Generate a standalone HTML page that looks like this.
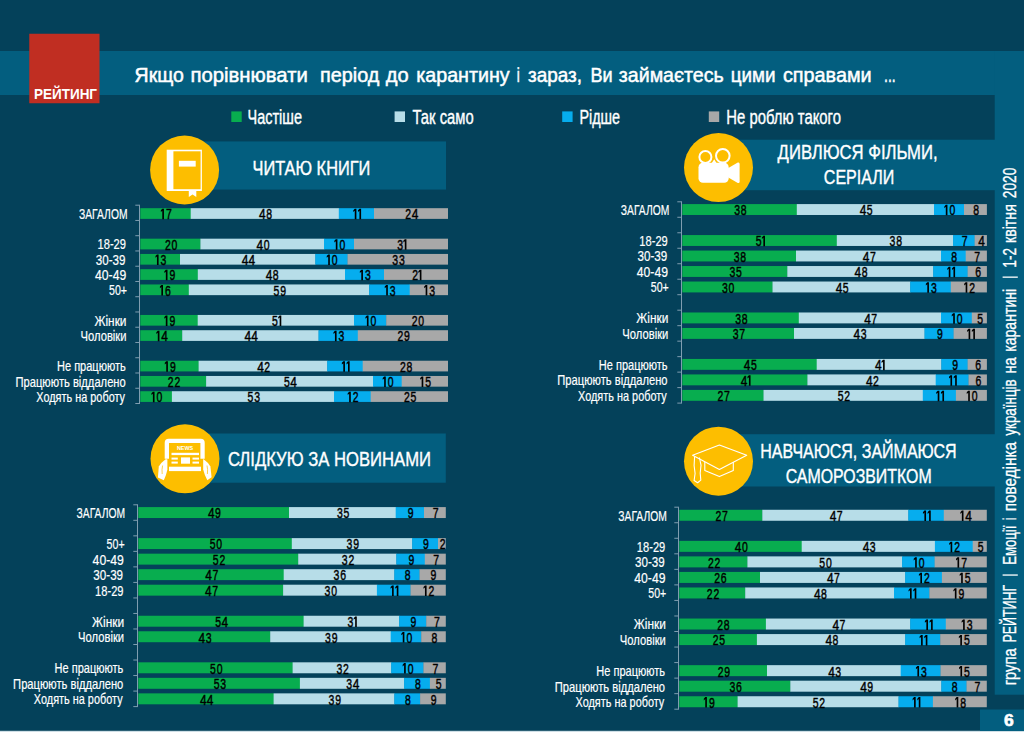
<!DOCTYPE html>
<html lang="uk"><head><meta charset="utf-8"><title>Рейтинг</title>
<style>
html,body{margin:0;padding:0;background:#04415a;}
body{width:1024px;height:732px;overflow:hidden;}
svg{display:block;font-family:"Liberation Sans",sans-serif;}
</style></head><body>
<svg width="1024" height="732" viewBox="0 0 1024 732">
<rect x="0.00" y="0.00" width="1024.00" height="732.00" fill="#04415a" />
<rect x="0.00" y="51.00" width="1024.00" height="44.00" fill="#035e7f" />
<rect x="994.70" y="51.00" width="29.30" height="643.70" fill="#035e7f" />
<rect x="0.00" y="730.80" width="1024.00" height="1.20" fill="#cfdfe6" />
<rect x="980.00" y="709.50" width="44.00" height="21.50" fill="#035e7f" />
<text x="1003.90" y="726.30" font-size="16.57" text-anchor="start" fill="#fff" font-weight="bold" textLength="9.72" lengthAdjust="spacingAndGlyphs"  stroke="#fff" stroke-width="0.6">6</text>
<rect x="29.25" y="33.75" width="70.25" height="69.50" fill="#c02e22" />
<text x="34.00" y="98.75" font-size="14.53" text-anchor="start" fill="#fff" font-weight="bold" textLength="63.02" lengthAdjust="spacingAndGlyphs" >РЕЙТИНГ</text>
<text x="134.60" y="81.80" font-size="20.64" text-anchor="start" fill="#fff" font-weight="normal" textLength="49.25" lengthAdjust="spacingAndGlyphs"  stroke="#fff" stroke-width="0.5">Якщо</text>
<text x="190.40" y="81.80" font-size="20.64" text-anchor="start" fill="#fff" font-weight="normal" textLength="117.41" lengthAdjust="spacingAndGlyphs"  stroke="#fff" stroke-width="0.5">порівнювати</text>
<text x="320.00" y="81.80" font-size="20.64" text-anchor="start" fill="#fff" font-weight="normal" textLength="59.38" lengthAdjust="spacingAndGlyphs"  stroke="#fff" stroke-width="0.5">період</text>
<text x="385.70" y="81.80" font-size="20.64" text-anchor="start" fill="#fff" font-weight="normal" textLength="22.89" lengthAdjust="spacingAndGlyphs"  stroke="#fff" stroke-width="0.5">до</text>
<text x="416.20" y="81.80" font-size="20.64" text-anchor="start" fill="#fff" font-weight="normal" textLength="93.48" lengthAdjust="spacingAndGlyphs"  stroke="#fff" stroke-width="0.5">карантину</text>
<text x="516.80" y="81.80" font-size="20.64" text-anchor="start" fill="#fff" font-weight="normal" textLength="3.03" lengthAdjust="spacingAndGlyphs"  stroke="#fff" stroke-width="0.5">і</text>
<text x="528.00" y="81.80" font-size="20.64" text-anchor="start" fill="#fff" font-weight="normal" textLength="54.04" lengthAdjust="spacingAndGlyphs"  stroke="#fff" stroke-width="0.5">зараз,</text>
<text x="590.40" y="81.80" font-size="20.64" text-anchor="start" fill="#fff" font-weight="normal" textLength="22.11" lengthAdjust="spacingAndGlyphs"  stroke="#fff" stroke-width="0.5">Ви</text>
<text x="618.80" y="81.80" font-size="20.64" text-anchor="start" fill="#fff" font-weight="normal" textLength="104.92" lengthAdjust="spacingAndGlyphs"  stroke="#fff" stroke-width="0.5">займаєтесь</text>
<text x="730.70" y="81.80" font-size="20.64" text-anchor="start" fill="#fff" font-weight="normal" textLength="44.85" lengthAdjust="spacingAndGlyphs"  stroke="#fff" stroke-width="0.5">цими</text>
<text x="782.90" y="81.80" font-size="20.64" text-anchor="start" fill="#fff" font-weight="normal" textLength="88.72" lengthAdjust="spacingAndGlyphs"  stroke="#fff" stroke-width="0.5">справами</text>
<text x="884.00" y="81.80" font-size="20.64" text-anchor="start" fill="#fff" font-weight="normal" textLength="11.68" lengthAdjust="spacingAndGlyphs"  stroke="#fff" stroke-width="0.5">...</text>
<rect x="231.30" y="111.40" width="10.40" height="10.60" fill="#08ad4f" />
<text x="247.50" y="123.60" font-size="20.35" text-anchor="start" fill="#fff" font-weight="normal" textLength="54.52" lengthAdjust="spacingAndGlyphs"  stroke="#fff" stroke-width="0.4">Частіше</text>
<rect x="394.60" y="111.40" width="10.40" height="10.60" fill="#b7dde8" />
<text x="412.50" y="123.60" font-size="20.35" text-anchor="start" fill="#fff" font-weight="normal" textLength="61.13" lengthAdjust="spacingAndGlyphs"  stroke="#fff" stroke-width="0.4">Так само</text>
<rect x="562.20" y="111.40" width="10.40" height="10.60" fill="#06adee" />
<text x="579.40" y="123.60" font-size="20.35" text-anchor="start" fill="#fff" font-weight="normal" textLength="40.62" lengthAdjust="spacingAndGlyphs"  stroke="#fff" stroke-width="0.4">Рідше</text>
<rect x="708.80" y="111.40" width="10.40" height="10.60" fill="#a8a8a8" />
<text x="726.30" y="123.60" font-size="20.35" text-anchor="start" fill="#fff" font-weight="normal" textLength="114.69" lengthAdjust="spacingAndGlyphs"  stroke="#fff" stroke-width="0.4">Не роблю такого</text>
<text transform="translate(1016.2,685.3) rotate(-90)" x="0.00" y="0" font-size="17.73" fill="#fff" stroke="#fff" stroke-width="0.3" textLength="36.86" lengthAdjust="spacingAndGlyphs">група</text>
<text transform="translate(1016.2,642.6) rotate(-90)" x="0.00" y="0" font-size="17.73" fill="#fff" stroke="#fff" stroke-width="0.3" textLength="57.71" lengthAdjust="spacingAndGlyphs">РЕЙТИНГ</text>
<text transform="translate(1016.2,564.8) rotate(-90)" x="0.00" y="0" font-size="17.73" fill="#fff" stroke="#fff" stroke-width="0.3" textLength="39.18" lengthAdjust="spacingAndGlyphs">Емоції</text>
<text transform="translate(1016.2,519.9) rotate(-90)" x="0.00" y="0" font-size="17.73" fill="#fff" stroke="#fff" stroke-width="0.3" textLength="2.22" lengthAdjust="spacingAndGlyphs">і</text>
<text transform="translate(1016.2,511.3) rotate(-90)" x="0.00" y="0" font-size="17.73" fill="#fff" stroke="#fff" stroke-width="0.3" textLength="69.33" lengthAdjust="spacingAndGlyphs">поведінка</text>
<text transform="translate(1016.2,435.6) rotate(-90)" x="0.00" y="0" font-size="17.73" fill="#fff" stroke="#fff" stroke-width="0.3" textLength="56.21" lengthAdjust="spacingAndGlyphs">українців</text>
<text transform="translate(1016.2,373.6) rotate(-90)" x="0.00" y="0" font-size="17.73" fill="#fff" stroke="#fff" stroke-width="0.3" textLength="16.18" lengthAdjust="spacingAndGlyphs">на</text>
<text transform="translate(1016.2,351.8) rotate(-90)" x="0.00" y="0" font-size="17.73" fill="#fff" stroke="#fff" stroke-width="0.3" textLength="63.02" lengthAdjust="spacingAndGlyphs">карантині</text>
<text transform="translate(1016.2,267.7) rotate(-90)" x="0.00" y="0" font-size="17.73" fill="#fff" stroke="#fff" stroke-width="0.3" textLength="19.71" lengthAdjust="spacingAndGlyphs">1-2</text>
<text transform="translate(1016.2,243) rotate(-90)" x="0.00" y="0" font-size="17.73" fill="#fff" stroke="#fff" stroke-width="0.3" textLength="38.87" lengthAdjust="spacingAndGlyphs">квітня</text>
<text transform="translate(1016.2,198.2) rotate(-90)" x="0.00" y="0" font-size="17.73" fill="#fff" stroke="#fff" stroke-width="0.3" textLength="30.60" lengthAdjust="spacingAndGlyphs">2020</text>
<rect x="1002.60" y="574.40" width="15.20" height="1.30" fill="#fff" />
<rect x="1002.60" y="276.50" width="15.20" height="1.30" fill="#fff" />
<path d="M139.50 205.20V403.50" stroke="#7f9db0" stroke-width="1" fill="none"/>
<path d="M135.30 205.20H140.00" stroke="#7f9db0" stroke-width="1" fill="none"/>
<path d="M135.30 220.45H140.00" stroke="#7f9db0" stroke-width="1" fill="none"/>
<path d="M135.30 235.71H140.00" stroke="#7f9db0" stroke-width="1" fill="none"/>
<path d="M135.30 250.96H140.00" stroke="#7f9db0" stroke-width="1" fill="none"/>
<path d="M135.30 266.22H140.00" stroke="#7f9db0" stroke-width="1" fill="none"/>
<path d="M135.30 281.47H140.00" stroke="#7f9db0" stroke-width="1" fill="none"/>
<path d="M135.30 296.72H140.00" stroke="#7f9db0" stroke-width="1" fill="none"/>
<path d="M135.30 311.98H140.00" stroke="#7f9db0" stroke-width="1" fill="none"/>
<path d="M135.30 327.23H140.00" stroke="#7f9db0" stroke-width="1" fill="none"/>
<path d="M135.30 342.48H140.00" stroke="#7f9db0" stroke-width="1" fill="none"/>
<path d="M135.30 357.74H140.00" stroke="#7f9db0" stroke-width="1" fill="none"/>
<path d="M135.30 372.99H140.00" stroke="#7f9db0" stroke-width="1" fill="none"/>
<path d="M135.30 388.25H140.00" stroke="#7f9db0" stroke-width="1" fill="none"/>
<path d="M135.30 403.50H140.00" stroke="#7f9db0" stroke-width="1" fill="none"/>
<rect x="140.30" y="208.18" width="50.70" height="10.70" fill="#08ad4f" />
<path d="M162.30 208.73H163.95V219.23H162.30V210.73L160.85 212.03V210.33z" fill="#000"/>
<text x="165.95" y="219.23" font-size="14.83" text-anchor="start" fill="#000" font-weight="normal" textLength="5.81" lengthAdjust="spacingAndGlyphs"  stroke="#000" stroke-width="0.45">7</text>
<rect x="190.70" y="208.18" width="148.40" height="10.70" fill="#b7dde8" />
<text x="259.10" y="219.23" font-size="14.83" text-anchor="start" fill="#000" font-weight="normal" textLength="6.61" lengthAdjust="spacingAndGlyphs"  stroke="#000" stroke-width="0.45">4</text>
<text x="266.20" y="219.23" font-size="14.83" text-anchor="start" fill="#000" font-weight="normal" textLength="5.81" lengthAdjust="spacingAndGlyphs"  stroke="#000" stroke-width="0.45">8</text>
<rect x="338.80" y="208.18" width="35.50" height="10.70" fill="#06adee" />
<path d="M354.75 208.73H356.40V219.23H354.75V210.73L353.30 212.03V210.33z" fill="#000"/>
<path d="M359.45 208.73H361.10V219.23H359.45V210.73L358.00 212.03V210.33z" fill="#000"/>
<rect x="374.00" y="208.18" width="74.00" height="10.70" fill="#a8a8a8" />
<text x="405.35" y="219.23" font-size="14.83" text-anchor="start" fill="#000" font-weight="normal" textLength="5.81" lengthAdjust="spacingAndGlyphs"  stroke="#000" stroke-width="0.45">2</text>
<text x="411.65" y="219.23" font-size="14.83" text-anchor="start" fill="#000" font-weight="normal" textLength="6.61" lengthAdjust="spacingAndGlyphs"  stroke="#000" stroke-width="0.45">4</text>
<text x="79.00" y="218.78" font-size="15.12" text-anchor="start" fill="#fff" font-weight="normal" textLength="48.52" lengthAdjust="spacingAndGlyphs"  stroke="#fff" stroke-width="0.2">ЗАГАЛОМ</text>
<rect x="140.30" y="238.68" width="60.40" height="10.70" fill="#08ad4f" />
<text x="164.95" y="249.73" font-size="14.83" text-anchor="start" fill="#000" font-weight="normal" textLength="5.81" lengthAdjust="spacingAndGlyphs"  stroke="#000" stroke-width="0.45">2</text>
<text x="171.55" y="249.73" font-size="14.83" text-anchor="start" fill="#000" font-weight="normal" textLength="5.81" lengthAdjust="spacingAndGlyphs"  stroke="#000" stroke-width="0.45">0</text>
<rect x="200.40" y="238.68" width="123.90" height="10.70" fill="#b7dde8" />
<text x="256.55" y="249.73" font-size="14.83" text-anchor="start" fill="#000" font-weight="normal" textLength="6.61" lengthAdjust="spacingAndGlyphs"  stroke="#000" stroke-width="0.45">4</text>
<text x="263.65" y="249.73" font-size="14.83" text-anchor="start" fill="#000" font-weight="normal" textLength="5.81" lengthAdjust="spacingAndGlyphs"  stroke="#000" stroke-width="0.45">0</text>
<rect x="324.00" y="238.68" width="30.30" height="10.70" fill="#06adee" />
<path d="M335.80 239.23H337.45V249.73H335.80V241.23L334.35 242.53V240.83z" fill="#000"/>
<text x="339.45" y="249.73" font-size="14.83" text-anchor="start" fill="#000" font-weight="normal" textLength="5.81" lengthAdjust="spacingAndGlyphs"  stroke="#000" stroke-width="0.45">0</text>
<rect x="354.00" y="238.68" width="94.00" height="10.70" fill="#a8a8a8" />
<text x="397.15" y="249.73" font-size="14.83" text-anchor="start" fill="#000" font-weight="normal" textLength="5.81" lengthAdjust="spacingAndGlyphs"  stroke="#000" stroke-width="0.45">3</text>
<path d="M404.80 239.23H406.45V249.73H404.80V241.23L403.35 242.53V240.83z" fill="#000"/>
<text x="97.50" y="249.28" font-size="15.12" text-anchor="start" fill="#fff" font-weight="normal" textLength="28.47" lengthAdjust="spacingAndGlyphs"  stroke="#fff" stroke-width="0.2">18-29</text>
<rect x="140.30" y="253.94" width="40.00" height="10.70" fill="#08ad4f" />
<path d="M156.95 254.49H158.60V264.99H156.95V256.49L155.50 257.79V256.09z" fill="#000"/>
<text x="160.60" y="264.99" font-size="14.83" text-anchor="start" fill="#000" font-weight="normal" textLength="5.81" lengthAdjust="spacingAndGlyphs"  stroke="#000" stroke-width="0.45">3</text>
<rect x="180.00" y="253.94" width="135.60" height="10.70" fill="#b7dde8" />
<text x="241.75" y="264.99" font-size="14.83" text-anchor="start" fill="#000" font-weight="normal" textLength="6.61" lengthAdjust="spacingAndGlyphs"  stroke="#000" stroke-width="0.45">4</text>
<text x="248.55" y="264.99" font-size="14.83" text-anchor="start" fill="#000" font-weight="normal" textLength="6.61" lengthAdjust="spacingAndGlyphs"  stroke="#000" stroke-width="0.45">4</text>
<rect x="315.30" y="253.94" width="32.50" height="10.70" fill="#06adee" />
<path d="M328.20 254.49H329.85V264.99H328.20V256.49L326.75 257.79V256.09z" fill="#000"/>
<text x="331.85" y="264.99" font-size="14.83" text-anchor="start" fill="#000" font-weight="normal" textLength="5.81" lengthAdjust="spacingAndGlyphs"  stroke="#000" stroke-width="0.45">0</text>
<rect x="347.50" y="253.94" width="100.50" height="10.70" fill="#a8a8a8" />
<text x="392.35" y="264.99" font-size="14.83" text-anchor="start" fill="#000" font-weight="normal" textLength="5.81" lengthAdjust="spacingAndGlyphs"  stroke="#000" stroke-width="0.45">3</text>
<text x="398.95" y="264.99" font-size="14.83" text-anchor="start" fill="#000" font-weight="normal" textLength="5.81" lengthAdjust="spacingAndGlyphs"  stroke="#000" stroke-width="0.45">3</text>
<text x="95.75" y="264.54" font-size="15.12" text-anchor="start" fill="#fff" font-weight="normal" textLength="29.72" lengthAdjust="spacingAndGlyphs"  stroke="#fff" stroke-width="0.2">30-39</text>
<rect x="140.30" y="269.19" width="57.80" height="10.70" fill="#08ad4f" />
<path d="M165.85 269.74H167.50V280.24H165.85V271.74L164.40 273.04V271.34z" fill="#000"/>
<text x="169.50" y="280.24" font-size="14.83" text-anchor="start" fill="#000" font-weight="normal" textLength="5.81" lengthAdjust="spacingAndGlyphs"  stroke="#000" stroke-width="0.45">9</text>
<rect x="197.80" y="269.19" width="147.50" height="10.70" fill="#b7dde8" />
<text x="265.75" y="280.24" font-size="14.83" text-anchor="start" fill="#000" font-weight="normal" textLength="6.61" lengthAdjust="spacingAndGlyphs"  stroke="#000" stroke-width="0.45">4</text>
<text x="272.85" y="280.24" font-size="14.83" text-anchor="start" fill="#000" font-weight="normal" textLength="5.81" lengthAdjust="spacingAndGlyphs"  stroke="#000" stroke-width="0.45">8</text>
<rect x="345.00" y="269.19" width="39.30" height="10.70" fill="#06adee" />
<path d="M361.30 269.74H362.95V280.24H361.30V271.74L359.85 273.04V271.34z" fill="#000"/>
<text x="364.95" y="280.24" font-size="14.83" text-anchor="start" fill="#000" font-weight="normal" textLength="5.81" lengthAdjust="spacingAndGlyphs"  stroke="#000" stroke-width="0.45">3</text>
<rect x="384.00" y="269.19" width="64.00" height="10.70" fill="#a8a8a8" />
<text x="412.15" y="280.24" font-size="14.83" text-anchor="start" fill="#000" font-weight="normal" textLength="5.81" lengthAdjust="spacingAndGlyphs"  stroke="#000" stroke-width="0.45">2</text>
<path d="M419.80 269.74H421.45V280.24H419.80V271.74L418.35 273.04V271.34z" fill="#000"/>
<text x="95.00" y="279.79" font-size="15.12" text-anchor="start" fill="#fff" font-weight="normal" textLength="31.22" lengthAdjust="spacingAndGlyphs"  stroke="#fff" stroke-width="0.2">40-49</text>
<rect x="140.30" y="284.45" width="48.80" height="10.70" fill="#08ad4f" />
<path d="M161.35 285.00H163.00V295.50H161.35V287.00L159.90 288.30V286.60z" fill="#000"/>
<text x="165.00" y="295.50" font-size="14.83" text-anchor="start" fill="#000" font-weight="normal" textLength="5.81" lengthAdjust="spacingAndGlyphs"  stroke="#000" stroke-width="0.45">6</text>
<rect x="188.80" y="284.45" width="180.60" height="10.70" fill="#b7dde8" />
<text x="273.55" y="295.50" font-size="14.83" text-anchor="start" fill="#000" font-weight="normal" textLength="5.81" lengthAdjust="spacingAndGlyphs"  stroke="#000" stroke-width="0.45">5</text>
<text x="280.15" y="295.50" font-size="14.83" text-anchor="start" fill="#000" font-weight="normal" textLength="5.81" lengthAdjust="spacingAndGlyphs"  stroke="#000" stroke-width="0.45">9</text>
<rect x="369.10" y="284.45" width="40.90" height="10.70" fill="#06adee" />
<path d="M386.20 285.00H387.85V295.50H386.20V287.00L384.75 288.30V286.60z" fill="#000"/>
<text x="389.85" y="295.50" font-size="14.83" text-anchor="start" fill="#000" font-weight="normal" textLength="5.81" lengthAdjust="spacingAndGlyphs"  stroke="#000" stroke-width="0.45">3</text>
<rect x="409.70" y="284.45" width="38.30" height="10.70" fill="#a8a8a8" />
<path d="M425.65 285.00H427.30V295.50H425.65V287.00L424.20 288.30V286.60z" fill="#000"/>
<text x="429.30" y="295.50" font-size="14.83" text-anchor="start" fill="#000" font-weight="normal" textLength="5.81" lengthAdjust="spacingAndGlyphs"  stroke="#000" stroke-width="0.45">3</text>
<text x="109.00" y="295.05" font-size="15.12" text-anchor="start" fill="#fff" font-weight="normal" textLength="18.01" lengthAdjust="spacingAndGlyphs"  stroke="#fff" stroke-width="0.2">50+</text>
<rect x="140.30" y="314.95" width="57.70" height="10.70" fill="#08ad4f" />
<path d="M165.80 315.50H167.45V326.00H165.80V317.50L164.35 318.80V317.10z" fill="#000"/>
<text x="169.45" y="326.00" font-size="14.83" text-anchor="start" fill="#000" font-weight="normal" textLength="5.81" lengthAdjust="spacingAndGlyphs"  stroke="#000" stroke-width="0.45">9</text>
<rect x="197.70" y="314.95" width="156.60" height="10.70" fill="#b7dde8" />
<text x="272.00" y="326.00" font-size="14.83" text-anchor="start" fill="#000" font-weight="normal" textLength="5.81" lengthAdjust="spacingAndGlyphs"  stroke="#000" stroke-width="0.45">5</text>
<path d="M279.65 315.50H281.30V326.00H279.65V317.50L278.20 318.80V317.10z" fill="#000"/>
<rect x="354.00" y="314.95" width="32.50" height="10.70" fill="#06adee" />
<path d="M366.90 315.50H368.55V326.00H366.90V317.50L365.45 318.80V317.10z" fill="#000"/>
<text x="370.55" y="326.00" font-size="14.83" text-anchor="start" fill="#000" font-weight="normal" textLength="5.81" lengthAdjust="spacingAndGlyphs"  stroke="#000" stroke-width="0.45">0</text>
<rect x="386.20" y="314.95" width="61.80" height="10.70" fill="#a8a8a8" />
<text x="411.70" y="326.00" font-size="14.83" text-anchor="start" fill="#000" font-weight="normal" textLength="5.81" lengthAdjust="spacingAndGlyphs"  stroke="#000" stroke-width="0.45">2</text>
<text x="418.30" y="326.00" font-size="14.83" text-anchor="start" fill="#000" font-weight="normal" textLength="5.81" lengthAdjust="spacingAndGlyphs"  stroke="#000" stroke-width="0.45">0</text>
<text x="94.50" y="325.55" font-size="15.12" text-anchor="start" fill="#fff" font-weight="normal" textLength="31.99" lengthAdjust="spacingAndGlyphs"  stroke="#fff" stroke-width="0.2">Жінки</text>
<rect x="140.30" y="330.21" width="42.20" height="10.70" fill="#08ad4f" />
<path d="M157.80 330.76H159.45V341.26H157.80V332.76L156.35 334.06V332.36z" fill="#000"/>
<text x="161.15" y="341.26" font-size="14.83" text-anchor="start" fill="#000" font-weight="normal" textLength="6.61" lengthAdjust="spacingAndGlyphs"  stroke="#000" stroke-width="0.45">4</text>
<rect x="182.20" y="330.21" width="136.60" height="10.70" fill="#b7dde8" />
<text x="244.45" y="341.26" font-size="14.83" text-anchor="start" fill="#000" font-weight="normal" textLength="6.61" lengthAdjust="spacingAndGlyphs"  stroke="#000" stroke-width="0.45">4</text>
<text x="251.25" y="341.26" font-size="14.83" text-anchor="start" fill="#000" font-weight="normal" textLength="6.61" lengthAdjust="spacingAndGlyphs"  stroke="#000" stroke-width="0.45">4</text>
<rect x="318.50" y="330.21" width="39.60" height="10.70" fill="#06adee" />
<path d="M334.95 330.76H336.60V341.26H334.95V332.76L333.50 334.06V332.36z" fill="#000"/>
<text x="338.60" y="341.26" font-size="14.83" text-anchor="start" fill="#000" font-weight="normal" textLength="5.81" lengthAdjust="spacingAndGlyphs"  stroke="#000" stroke-width="0.45">3</text>
<rect x="357.80" y="330.21" width="90.20" height="10.70" fill="#a8a8a8" />
<text x="397.50" y="341.26" font-size="14.83" text-anchor="start" fill="#000" font-weight="normal" textLength="5.81" lengthAdjust="spacingAndGlyphs"  stroke="#000" stroke-width="0.45">2</text>
<text x="404.10" y="341.26" font-size="14.83" text-anchor="start" fill="#000" font-weight="normal" textLength="5.81" lengthAdjust="spacingAndGlyphs"  stroke="#000" stroke-width="0.45">9</text>
<text x="80.50" y="340.81" font-size="15.12" text-anchor="start" fill="#fff" font-weight="normal" textLength="46.01" lengthAdjust="spacingAndGlyphs"  stroke="#fff" stroke-width="0.2">Чоловіки</text>
<rect x="140.30" y="360.72" width="58.60" height="10.70" fill="#08ad4f" />
<path d="M166.25 361.27H167.90V371.77H166.25V363.27L164.80 364.57V362.87z" fill="#000"/>
<text x="169.90" y="371.77" font-size="14.83" text-anchor="start" fill="#000" font-weight="normal" textLength="5.81" lengthAdjust="spacingAndGlyphs"  stroke="#000" stroke-width="0.45">9</text>
<rect x="198.60" y="360.72" width="128.90" height="10.70" fill="#b7dde8" />
<text x="257.25" y="371.77" font-size="14.83" text-anchor="start" fill="#000" font-weight="normal" textLength="6.61" lengthAdjust="spacingAndGlyphs"  stroke="#000" stroke-width="0.45">4</text>
<text x="264.35" y="371.77" font-size="14.83" text-anchor="start" fill="#000" font-weight="normal" textLength="5.81" lengthAdjust="spacingAndGlyphs"  stroke="#000" stroke-width="0.45">2</text>
<rect x="327.20" y="360.72" width="35.80" height="10.70" fill="#06adee" />
<path d="M343.30 361.27H344.95V371.77H343.30V363.27L341.85 364.57V362.87z" fill="#000"/>
<path d="M348.00 361.27H349.65V371.77H348.00V363.27L346.55 364.57V362.87z" fill="#000"/>
<rect x="362.70" y="360.72" width="85.30" height="10.70" fill="#a8a8a8" />
<text x="399.95" y="371.77" font-size="14.83" text-anchor="start" fill="#000" font-weight="normal" textLength="5.81" lengthAdjust="spacingAndGlyphs"  stroke="#000" stroke-width="0.45">2</text>
<text x="406.55" y="371.77" font-size="14.83" text-anchor="start" fill="#000" font-weight="normal" textLength="5.81" lengthAdjust="spacingAndGlyphs"  stroke="#000" stroke-width="0.45">8</text>
<text x="57.00" y="371.32" font-size="15.12" text-anchor="start" fill="#fff" font-weight="normal" textLength="68.75" lengthAdjust="spacingAndGlyphs"  stroke="#fff" stroke-width="0.2">Не працюють</text>
<rect x="140.30" y="375.97" width="66.10" height="10.70" fill="#08ad4f" />
<text x="167.80" y="387.02" font-size="14.83" text-anchor="start" fill="#000" font-weight="normal" textLength="5.81" lengthAdjust="spacingAndGlyphs"  stroke="#000" stroke-width="0.45">2</text>
<text x="174.40" y="387.02" font-size="14.83" text-anchor="start" fill="#000" font-weight="normal" textLength="5.81" lengthAdjust="spacingAndGlyphs"  stroke="#000" stroke-width="0.45">2</text>
<rect x="206.10" y="375.97" width="167.20" height="10.70" fill="#b7dde8" />
<text x="283.90" y="387.02" font-size="14.83" text-anchor="start" fill="#000" font-weight="normal" textLength="5.81" lengthAdjust="spacingAndGlyphs"  stroke="#000" stroke-width="0.45">5</text>
<text x="290.20" y="387.02" font-size="14.83" text-anchor="start" fill="#000" font-weight="normal" textLength="6.61" lengthAdjust="spacingAndGlyphs"  stroke="#000" stroke-width="0.45">4</text>
<rect x="373.00" y="375.97" width="29.00" height="10.70" fill="#06adee" />
<path d="M384.15 376.52H385.80V387.02H384.15V378.52L382.70 379.82V378.12z" fill="#000"/>
<text x="387.80" y="387.02" font-size="14.83" text-anchor="start" fill="#000" font-weight="normal" textLength="5.81" lengthAdjust="spacingAndGlyphs"  stroke="#000" stroke-width="0.45">0</text>
<rect x="401.70" y="375.97" width="46.30" height="10.70" fill="#a8a8a8" />
<path d="M421.65 376.52H423.30V387.02H421.65V378.52L420.20 379.82V378.12z" fill="#000"/>
<text x="425.30" y="387.02" font-size="14.83" text-anchor="start" fill="#000" font-weight="normal" textLength="5.81" lengthAdjust="spacingAndGlyphs"  stroke="#000" stroke-width="0.45">5</text>
<text x="15.50" y="386.57" font-size="15.12" text-anchor="start" fill="#fff" font-weight="normal" textLength="110.23" lengthAdjust="spacingAndGlyphs"  stroke="#fff" stroke-width="0.2">Працюють віддалено</text>
<rect x="140.30" y="391.22" width="31.90" height="10.70" fill="#08ad4f" />
<path d="M152.90 391.77H154.55V402.27H152.90V393.77L151.45 395.07V393.37z" fill="#000"/>
<text x="156.55" y="402.27" font-size="14.83" text-anchor="start" fill="#000" font-weight="normal" textLength="5.81" lengthAdjust="spacingAndGlyphs"  stroke="#000" stroke-width="0.45">0</text>
<rect x="171.90" y="391.22" width="162.40" height="10.70" fill="#b7dde8" />
<text x="247.55" y="402.27" font-size="14.83" text-anchor="start" fill="#000" font-weight="normal" textLength="5.81" lengthAdjust="spacingAndGlyphs"  stroke="#000" stroke-width="0.45">5</text>
<text x="254.15" y="402.27" font-size="14.83" text-anchor="start" fill="#000" font-weight="normal" textLength="5.81" lengthAdjust="spacingAndGlyphs"  stroke="#000" stroke-width="0.45">3</text>
<rect x="334.00" y="391.22" width="37.00" height="10.70" fill="#06adee" />
<path d="M349.15 391.77H350.80V402.27H349.15V393.77L347.70 395.07V393.37z" fill="#000"/>
<text x="352.80" y="402.27" font-size="14.83" text-anchor="start" fill="#000" font-weight="normal" textLength="5.81" lengthAdjust="spacingAndGlyphs"  stroke="#000" stroke-width="0.45">2</text>
<rect x="370.70" y="391.22" width="77.30" height="10.70" fill="#a8a8a8" />
<text x="403.95" y="402.27" font-size="14.83" text-anchor="start" fill="#000" font-weight="normal" textLength="5.81" lengthAdjust="spacingAndGlyphs"  stroke="#000" stroke-width="0.45">2</text>
<text x="410.55" y="402.27" font-size="14.83" text-anchor="start" fill="#000" font-weight="normal" textLength="5.81" lengthAdjust="spacingAndGlyphs"  stroke="#000" stroke-width="0.45">5</text>
<text x="36.25" y="401.82" font-size="15.12" text-anchor="start" fill="#fff" font-weight="normal" textLength="88.77" lengthAdjust="spacingAndGlyphs"  stroke="#fff" stroke-width="0.2">Ходять на роботу</text>
<path d="M681.50 201.80V403.10" stroke="#7f9db0" stroke-width="1" fill="none"/>
<path d="M677.30 201.80H682.00" stroke="#7f9db0" stroke-width="1" fill="none"/>
<path d="M677.30 217.28H682.00" stroke="#7f9db0" stroke-width="1" fill="none"/>
<path d="M677.30 232.77H682.00" stroke="#7f9db0" stroke-width="1" fill="none"/>
<path d="M677.30 248.25H682.00" stroke="#7f9db0" stroke-width="1" fill="none"/>
<path d="M677.30 263.74H682.00" stroke="#7f9db0" stroke-width="1" fill="none"/>
<path d="M677.30 279.22H682.00" stroke="#7f9db0" stroke-width="1" fill="none"/>
<path d="M677.30 294.71H682.00" stroke="#7f9db0" stroke-width="1" fill="none"/>
<path d="M677.30 310.19H682.00" stroke="#7f9db0" stroke-width="1" fill="none"/>
<path d="M677.30 325.68H682.00" stroke="#7f9db0" stroke-width="1" fill="none"/>
<path d="M677.30 341.16H682.00" stroke="#7f9db0" stroke-width="1" fill="none"/>
<path d="M677.30 356.65H682.00" stroke="#7f9db0" stroke-width="1" fill="none"/>
<path d="M677.30 372.13H682.00" stroke="#7f9db0" stroke-width="1" fill="none"/>
<path d="M677.30 387.62H682.00" stroke="#7f9db0" stroke-width="1" fill="none"/>
<path d="M677.30 403.10H682.00" stroke="#7f9db0" stroke-width="1" fill="none"/>
<rect x="682.30" y="204.09" width="114.80" height="10.90" fill="#08ad4f" />
<text x="734.15" y="215.34" font-size="14.83" text-anchor="start" fill="#000" font-weight="normal" textLength="5.81" lengthAdjust="spacingAndGlyphs"  stroke="#000" stroke-width="0.45">3</text>
<text x="740.75" y="215.34" font-size="14.83" text-anchor="start" fill="#000" font-weight="normal" textLength="5.81" lengthAdjust="spacingAndGlyphs"  stroke="#000" stroke-width="0.45">8</text>
<rect x="796.80" y="204.09" width="137.50" height="10.90" fill="#b7dde8" />
<text x="859.75" y="215.34" font-size="14.83" text-anchor="start" fill="#000" font-weight="normal" textLength="6.61" lengthAdjust="spacingAndGlyphs"  stroke="#000" stroke-width="0.45">4</text>
<text x="866.85" y="215.34" font-size="14.83" text-anchor="start" fill="#000" font-weight="normal" textLength="5.81" lengthAdjust="spacingAndGlyphs"  stroke="#000" stroke-width="0.45">5</text>
<rect x="934.00" y="204.09" width="30.30" height="10.90" fill="#06adee" />
<path d="M945.80 204.84H947.45V215.34H945.80V206.84L944.35 208.14V206.44z" fill="#000"/>
<text x="949.45" y="215.34" font-size="14.83" text-anchor="start" fill="#000" font-weight="normal" textLength="5.81" lengthAdjust="spacingAndGlyphs"  stroke="#000" stroke-width="0.45">0</text>
<rect x="964.00" y="204.09" width="22.90" height="10.90" fill="#a8a8a8" />
<text x="973.35" y="215.34" font-size="14.83" text-anchor="start" fill="#000" font-weight="normal" textLength="5.81" lengthAdjust="spacingAndGlyphs"  stroke="#000" stroke-width="0.45">8</text>
<text x="620.80" y="214.89" font-size="15.12" text-anchor="start" fill="#fff" font-weight="normal" textLength="48.52" lengthAdjust="spacingAndGlyphs"  stroke="#fff" stroke-width="0.2">ЗАГАЛОМ</text>
<rect x="682.30" y="235.06" width="154.80" height="10.90" fill="#08ad4f" />
<text x="755.70" y="246.31" font-size="14.83" text-anchor="start" fill="#000" font-weight="normal" textLength="5.81" lengthAdjust="spacingAndGlyphs"  stroke="#000" stroke-width="0.45">5</text>
<path d="M763.35 235.81H765.00V246.31H763.35V237.81L761.90 239.11V237.41z" fill="#000"/>
<rect x="836.80" y="235.06" width="116.60" height="10.90" fill="#b7dde8" />
<text x="889.55" y="246.31" font-size="14.83" text-anchor="start" fill="#000" font-weight="normal" textLength="5.81" lengthAdjust="spacingAndGlyphs"  stroke="#000" stroke-width="0.45">3</text>
<text x="896.15" y="246.31" font-size="14.83" text-anchor="start" fill="#000" font-weight="normal" textLength="5.81" lengthAdjust="spacingAndGlyphs"  stroke="#000" stroke-width="0.45">8</text>
<rect x="953.10" y="235.06" width="21.80" height="10.90" fill="#06adee" />
<text x="961.75" y="246.31" font-size="14.83" text-anchor="start" fill="#000" font-weight="normal" textLength="5.81" lengthAdjust="spacingAndGlyphs"  stroke="#000" stroke-width="0.45">7</text>
<rect x="974.60" y="235.06" width="12.30" height="10.90" fill="#a8a8a8" />
<text x="978.25" y="246.31" font-size="14.83" text-anchor="start" fill="#000" font-weight="normal" textLength="6.61" lengthAdjust="spacingAndGlyphs"  stroke="#000" stroke-width="0.45">4</text>
<text x="639.30" y="245.86" font-size="15.12" text-anchor="start" fill="#fff" font-weight="normal" textLength="28.47" lengthAdjust="spacingAndGlyphs"  stroke="#fff" stroke-width="0.2">18-29</text>
<rect x="682.30" y="250.55" width="114.00" height="10.90" fill="#08ad4f" />
<text x="733.75" y="261.80" font-size="14.83" text-anchor="start" fill="#000" font-weight="normal" textLength="5.81" lengthAdjust="spacingAndGlyphs"  stroke="#000" stroke-width="0.45">3</text>
<text x="740.35" y="261.80" font-size="14.83" text-anchor="start" fill="#000" font-weight="normal" textLength="5.81" lengthAdjust="spacingAndGlyphs"  stroke="#000" stroke-width="0.45">8</text>
<rect x="796.00" y="250.55" width="145.30" height="10.90" fill="#b7dde8" />
<text x="862.85" y="261.80" font-size="14.83" text-anchor="start" fill="#000" font-weight="normal" textLength="6.61" lengthAdjust="spacingAndGlyphs"  stroke="#000" stroke-width="0.45">4</text>
<text x="869.95" y="261.80" font-size="14.83" text-anchor="start" fill="#000" font-weight="normal" textLength="5.81" lengthAdjust="spacingAndGlyphs"  stroke="#000" stroke-width="0.45">7</text>
<rect x="941.00" y="250.55" width="25.00" height="10.90" fill="#06adee" />
<text x="951.25" y="261.80" font-size="14.83" text-anchor="start" fill="#000" font-weight="normal" textLength="5.81" lengthAdjust="spacingAndGlyphs"  stroke="#000" stroke-width="0.45">8</text>
<rect x="965.70" y="250.55" width="21.20" height="10.90" fill="#a8a8a8" />
<text x="974.20" y="261.80" font-size="14.83" text-anchor="start" fill="#000" font-weight="normal" textLength="5.81" lengthAdjust="spacingAndGlyphs"  stroke="#000" stroke-width="0.45">7</text>
<text x="637.55" y="261.35" font-size="15.12" text-anchor="start" fill="#fff" font-weight="normal" textLength="29.72" lengthAdjust="spacingAndGlyphs"  stroke="#fff" stroke-width="0.2">30-39</text>
<rect x="682.30" y="266.03" width="105.30" height="10.90" fill="#08ad4f" />
<text x="729.40" y="277.28" font-size="14.83" text-anchor="start" fill="#000" font-weight="normal" textLength="5.81" lengthAdjust="spacingAndGlyphs"  stroke="#000" stroke-width="0.45">3</text>
<text x="736.00" y="277.28" font-size="14.83" text-anchor="start" fill="#000" font-weight="normal" textLength="5.81" lengthAdjust="spacingAndGlyphs"  stroke="#000" stroke-width="0.45">5</text>
<rect x="787.30" y="266.03" width="146.20" height="10.90" fill="#b7dde8" />
<text x="854.60" y="277.28" font-size="14.83" text-anchor="start" fill="#000" font-weight="normal" textLength="6.61" lengthAdjust="spacingAndGlyphs"  stroke="#000" stroke-width="0.45">4</text>
<text x="861.70" y="277.28" font-size="14.83" text-anchor="start" fill="#000" font-weight="normal" textLength="5.81" lengthAdjust="spacingAndGlyphs"  stroke="#000" stroke-width="0.45">8</text>
<rect x="933.20" y="266.03" width="34.70" height="10.90" fill="#06adee" />
<path d="M948.75 266.78H950.40V277.28H948.75V268.78L947.30 270.08V268.38z" fill="#000"/>
<path d="M953.45 266.78H955.10V277.28H953.45V268.78L952.00 270.08V268.38z" fill="#000"/>
<rect x="967.60" y="266.03" width="19.30" height="10.90" fill="#a8a8a8" />
<text x="975.15" y="277.28" font-size="14.83" text-anchor="start" fill="#000" font-weight="normal" textLength="5.81" lengthAdjust="spacingAndGlyphs"  stroke="#000" stroke-width="0.45">6</text>
<text x="636.80" y="276.83" font-size="15.12" text-anchor="start" fill="#fff" font-weight="normal" textLength="31.22" lengthAdjust="spacingAndGlyphs"  stroke="#fff" stroke-width="0.2">40-49</text>
<rect x="682.30" y="281.52" width="90.50" height="10.90" fill="#08ad4f" />
<text x="722.00" y="292.77" font-size="14.83" text-anchor="start" fill="#000" font-weight="normal" textLength="5.81" lengthAdjust="spacingAndGlyphs"  stroke="#000" stroke-width="0.45">3</text>
<text x="728.60" y="292.77" font-size="14.83" text-anchor="start" fill="#000" font-weight="normal" textLength="5.81" lengthAdjust="spacingAndGlyphs"  stroke="#000" stroke-width="0.45">0</text>
<rect x="772.50" y="281.52" width="138.00" height="10.90" fill="#b7dde8" />
<text x="835.70" y="292.77" font-size="14.83" text-anchor="start" fill="#000" font-weight="normal" textLength="6.61" lengthAdjust="spacingAndGlyphs"  stroke="#000" stroke-width="0.45">4</text>
<text x="842.80" y="292.77" font-size="14.83" text-anchor="start" fill="#000" font-weight="normal" textLength="5.81" lengthAdjust="spacingAndGlyphs"  stroke="#000" stroke-width="0.45">5</text>
<rect x="910.20" y="281.52" width="40.90" height="10.90" fill="#06adee" />
<path d="M927.30 282.27H928.95V292.77H927.30V284.27L925.85 285.57V283.87z" fill="#000"/>
<text x="930.95" y="292.77" font-size="14.83" text-anchor="start" fill="#000" font-weight="normal" textLength="5.81" lengthAdjust="spacingAndGlyphs"  stroke="#000" stroke-width="0.45">3</text>
<rect x="950.80" y="281.52" width="36.10" height="10.90" fill="#a8a8a8" />
<path d="M965.65 282.27H967.30V292.77H965.65V284.27L964.20 285.57V283.87z" fill="#000"/>
<text x="969.30" y="292.77" font-size="14.83" text-anchor="start" fill="#000" font-weight="normal" textLength="5.81" lengthAdjust="spacingAndGlyphs"  stroke="#000" stroke-width="0.45">2</text>
<text x="650.80" y="292.32" font-size="15.12" text-anchor="start" fill="#fff" font-weight="normal" textLength="18.01" lengthAdjust="spacingAndGlyphs"  stroke="#fff" stroke-width="0.2">50+</text>
<rect x="682.30" y="312.48" width="116.80" height="10.90" fill="#08ad4f" />
<text x="735.15" y="323.73" font-size="14.83" text-anchor="start" fill="#000" font-weight="normal" textLength="5.81" lengthAdjust="spacingAndGlyphs"  stroke="#000" stroke-width="0.45">3</text>
<text x="741.75" y="323.73" font-size="14.83" text-anchor="start" fill="#000" font-weight="normal" textLength="5.81" lengthAdjust="spacingAndGlyphs"  stroke="#000" stroke-width="0.45">8</text>
<rect x="798.80" y="312.48" width="142.50" height="10.90" fill="#b7dde8" />
<text x="864.25" y="323.73" font-size="14.83" text-anchor="start" fill="#000" font-weight="normal" textLength="6.61" lengthAdjust="spacingAndGlyphs"  stroke="#000" stroke-width="0.45">4</text>
<text x="871.35" y="323.73" font-size="14.83" text-anchor="start" fill="#000" font-weight="normal" textLength="5.81" lengthAdjust="spacingAndGlyphs"  stroke="#000" stroke-width="0.45">7</text>
<rect x="941.00" y="312.48" width="31.10" height="10.90" fill="#06adee" />
<path d="M953.20 313.23H954.85V323.73H953.20V315.23L951.75 316.53V314.83z" fill="#000"/>
<text x="956.85" y="323.73" font-size="14.83" text-anchor="start" fill="#000" font-weight="normal" textLength="5.81" lengthAdjust="spacingAndGlyphs"  stroke="#000" stroke-width="0.45">0</text>
<rect x="971.80" y="312.48" width="15.10" height="10.90" fill="#a8a8a8" />
<text x="977.25" y="323.73" font-size="14.83" text-anchor="start" fill="#000" font-weight="normal" textLength="5.81" lengthAdjust="spacingAndGlyphs"  stroke="#000" stroke-width="0.45">5</text>
<text x="636.30" y="323.28" font-size="15.12" text-anchor="start" fill="#fff" font-weight="normal" textLength="31.99" lengthAdjust="spacingAndGlyphs"  stroke="#fff" stroke-width="0.2">Жінки</text>
<rect x="682.30" y="327.97" width="112.00" height="10.90" fill="#08ad4f" />
<text x="732.75" y="339.22" font-size="14.83" text-anchor="start" fill="#000" font-weight="normal" textLength="5.81" lengthAdjust="spacingAndGlyphs"  stroke="#000" stroke-width="0.45">3</text>
<text x="739.35" y="339.22" font-size="14.83" text-anchor="start" fill="#000" font-weight="normal" textLength="5.81" lengthAdjust="spacingAndGlyphs"  stroke="#000" stroke-width="0.45">7</text>
<rect x="794.00" y="327.97" width="130.80" height="10.90" fill="#b7dde8" />
<text x="853.60" y="339.22" font-size="14.83" text-anchor="start" fill="#000" font-weight="normal" textLength="6.61" lengthAdjust="spacingAndGlyphs"  stroke="#000" stroke-width="0.45">4</text>
<text x="860.70" y="339.22" font-size="14.83" text-anchor="start" fill="#000" font-weight="normal" textLength="5.81" lengthAdjust="spacingAndGlyphs"  stroke="#000" stroke-width="0.45">3</text>
<rect x="924.50" y="327.97" width="29.40" height="10.90" fill="#06adee" />
<text x="936.95" y="339.22" font-size="14.83" text-anchor="start" fill="#000" font-weight="normal" textLength="5.81" lengthAdjust="spacingAndGlyphs"  stroke="#000" stroke-width="0.45">9</text>
<rect x="953.60" y="327.97" width="33.30" height="10.90" fill="#a8a8a8" />
<path d="M968.60 328.72H970.25V339.22H968.60V330.72L967.15 332.02V330.32z" fill="#000"/>
<path d="M973.30 328.72H974.95V339.22H973.30V330.72L971.85 332.02V330.32z" fill="#000"/>
<text x="622.30" y="338.77" font-size="15.12" text-anchor="start" fill="#fff" font-weight="normal" textLength="46.01" lengthAdjust="spacingAndGlyphs"  stroke="#fff" stroke-width="0.2">Чоловіки</text>
<rect x="682.30" y="358.94" width="134.70" height="10.90" fill="#08ad4f" />
<text x="743.85" y="370.19" font-size="14.83" text-anchor="start" fill="#000" font-weight="normal" textLength="6.61" lengthAdjust="spacingAndGlyphs"  stroke="#000" stroke-width="0.45">4</text>
<text x="750.95" y="370.19" font-size="14.83" text-anchor="start" fill="#000" font-weight="normal" textLength="5.81" lengthAdjust="spacingAndGlyphs"  stroke="#000" stroke-width="0.45">5</text>
<rect x="816.70" y="358.94" width="124.90" height="10.90" fill="#b7dde8" />
<text x="874.90" y="370.19" font-size="14.83" text-anchor="start" fill="#000" font-weight="normal" textLength="6.61" lengthAdjust="spacingAndGlyphs"  stroke="#000" stroke-width="0.45">4</text>
<path d="M883.05 359.69H884.70V370.19H883.05V361.69L881.60 362.99V361.29z" fill="#000"/>
<rect x="941.30" y="358.94" width="26.60" height="10.90" fill="#06adee" />
<text x="952.35" y="370.19" font-size="14.83" text-anchor="start" fill="#000" font-weight="normal" textLength="5.81" lengthAdjust="spacingAndGlyphs"  stroke="#000" stroke-width="0.45">9</text>
<rect x="967.60" y="358.94" width="19.30" height="10.90" fill="#a8a8a8" />
<text x="975.15" y="370.19" font-size="14.83" text-anchor="start" fill="#000" font-weight="normal" textLength="5.81" lengthAdjust="spacingAndGlyphs"  stroke="#000" stroke-width="0.45">6</text>
<text x="598.80" y="369.74" font-size="15.12" text-anchor="start" fill="#fff" font-weight="normal" textLength="68.75" lengthAdjust="spacingAndGlyphs"  stroke="#fff" stroke-width="0.2">Не працюють</text>
<rect x="682.30" y="374.42" width="125.40" height="10.90" fill="#08ad4f" />
<text x="740.75" y="385.67" font-size="14.83" text-anchor="start" fill="#000" font-weight="normal" textLength="6.61" lengthAdjust="spacingAndGlyphs"  stroke="#000" stroke-width="0.45">4</text>
<path d="M748.90 375.17H750.55V385.67H748.90V377.17L747.45 378.47V376.77z" fill="#000"/>
<rect x="807.40" y="374.42" width="128.60" height="10.90" fill="#b7dde8" />
<text x="865.90" y="385.67" font-size="14.83" text-anchor="start" fill="#000" font-weight="normal" textLength="6.61" lengthAdjust="spacingAndGlyphs"  stroke="#000" stroke-width="0.45">4</text>
<text x="873.00" y="385.67" font-size="14.83" text-anchor="start" fill="#000" font-weight="normal" textLength="5.81" lengthAdjust="spacingAndGlyphs"  stroke="#000" stroke-width="0.45">2</text>
<rect x="935.70" y="374.42" width="33.10" height="10.90" fill="#06adee" />
<path d="M950.45 375.17H952.10V385.67H950.45V377.17L949.00 378.47V376.77z" fill="#000"/>
<path d="M955.15 375.17H956.80V385.67H955.15V377.17L953.70 378.47V376.77z" fill="#000"/>
<rect x="968.50" y="374.42" width="18.40" height="10.90" fill="#a8a8a8" />
<text x="975.60" y="385.67" font-size="14.83" text-anchor="start" fill="#000" font-weight="normal" textLength="5.81" lengthAdjust="spacingAndGlyphs"  stroke="#000" stroke-width="0.45">6</text>
<text x="557.30" y="385.22" font-size="15.12" text-anchor="start" fill="#fff" font-weight="normal" textLength="110.23" lengthAdjust="spacingAndGlyphs"  stroke="#fff" stroke-width="0.2">Працюють віддалено</text>
<rect x="682.30" y="389.91" width="81.50" height="10.90" fill="#08ad4f" />
<text x="717.50" y="401.16" font-size="14.83" text-anchor="start" fill="#000" font-weight="normal" textLength="5.81" lengthAdjust="spacingAndGlyphs"  stroke="#000" stroke-width="0.45">2</text>
<text x="724.10" y="401.16" font-size="14.83" text-anchor="start" fill="#000" font-weight="normal" textLength="5.81" lengthAdjust="spacingAndGlyphs"  stroke="#000" stroke-width="0.45">7</text>
<rect x="763.50" y="389.91" width="159.60" height="10.90" fill="#b7dde8" />
<text x="837.75" y="401.16" font-size="14.83" text-anchor="start" fill="#000" font-weight="normal" textLength="5.81" lengthAdjust="spacingAndGlyphs"  stroke="#000" stroke-width="0.45">5</text>
<text x="844.35" y="401.16" font-size="14.83" text-anchor="start" fill="#000" font-weight="normal" textLength="5.81" lengthAdjust="spacingAndGlyphs"  stroke="#000" stroke-width="0.45">2</text>
<rect x="922.80" y="389.91" width="33.40" height="10.90" fill="#06adee" />
<path d="M937.70 390.66H939.35V401.16H937.70V392.66L936.25 393.96V392.26z" fill="#000"/>
<path d="M942.40 390.66H944.05V401.16H942.40V392.66L940.95 393.96V392.26z" fill="#000"/>
<rect x="955.90" y="389.91" width="31.00" height="10.90" fill="#a8a8a8" />
<path d="M968.20 390.66H969.85V401.16H968.20V392.66L966.75 393.96V392.26z" fill="#000"/>
<text x="971.85" y="401.16" font-size="14.83" text-anchor="start" fill="#000" font-weight="normal" textLength="5.81" lengthAdjust="spacingAndGlyphs"  stroke="#000" stroke-width="0.45">0</text>
<text x="578.05" y="400.71" font-size="15.12" text-anchor="start" fill="#fff" font-weight="normal" textLength="88.77" lengthAdjust="spacingAndGlyphs"  stroke="#fff" stroke-width="0.2">Ходять на роботу</text>
<path d="M137.50 504.80V706.60" stroke="#7f9db0" stroke-width="1" fill="none"/>
<path d="M133.30 504.80H138.00" stroke="#7f9db0" stroke-width="1" fill="none"/>
<path d="M133.30 520.32H138.00" stroke="#7f9db0" stroke-width="1" fill="none"/>
<path d="M133.30 535.85H138.00" stroke="#7f9db0" stroke-width="1" fill="none"/>
<path d="M133.30 551.37H138.00" stroke="#7f9db0" stroke-width="1" fill="none"/>
<path d="M133.30 566.89H138.00" stroke="#7f9db0" stroke-width="1" fill="none"/>
<path d="M133.30 582.42H138.00" stroke="#7f9db0" stroke-width="1" fill="none"/>
<path d="M133.30 597.94H138.00" stroke="#7f9db0" stroke-width="1" fill="none"/>
<path d="M133.30 613.46H138.00" stroke="#7f9db0" stroke-width="1" fill="none"/>
<path d="M133.30 628.98H138.00" stroke="#7f9db0" stroke-width="1" fill="none"/>
<path d="M133.30 644.51H138.00" stroke="#7f9db0" stroke-width="1" fill="none"/>
<path d="M133.30 660.03H138.00" stroke="#7f9db0" stroke-width="1" fill="none"/>
<path d="M133.30 675.55H138.00" stroke="#7f9db0" stroke-width="1" fill="none"/>
<path d="M133.30 691.08H138.00" stroke="#7f9db0" stroke-width="1" fill="none"/>
<path d="M133.30 706.60H138.00" stroke="#7f9db0" stroke-width="1" fill="none"/>
<rect x="138.30" y="507.09" width="151.00" height="10.95" fill="#08ad4f" />
<text x="208.00" y="518.39" font-size="14.83" text-anchor="start" fill="#000" font-weight="normal" textLength="6.61" lengthAdjust="spacingAndGlyphs"  stroke="#000" stroke-width="0.45">4</text>
<text x="215.10" y="518.39" font-size="14.83" text-anchor="start" fill="#000" font-weight="normal" textLength="5.81" lengthAdjust="spacingAndGlyphs"  stroke="#000" stroke-width="0.45">9</text>
<rect x="289.00" y="507.09" width="107.00" height="10.95" fill="#b7dde8" />
<text x="336.95" y="518.39" font-size="14.83" text-anchor="start" fill="#000" font-weight="normal" textLength="5.81" lengthAdjust="spacingAndGlyphs"  stroke="#000" stroke-width="0.45">3</text>
<text x="343.55" y="518.39" font-size="14.83" text-anchor="start" fill="#000" font-weight="normal" textLength="5.81" lengthAdjust="spacingAndGlyphs"  stroke="#000" stroke-width="0.45">5</text>
<rect x="395.70" y="507.09" width="28.60" height="10.95" fill="#06adee" />
<text x="407.75" y="518.39" font-size="14.83" text-anchor="start" fill="#000" font-weight="normal" textLength="5.81" lengthAdjust="spacingAndGlyphs"  stroke="#000" stroke-width="0.45">9</text>
<rect x="424.00" y="507.09" width="21.80" height="10.95" fill="#a8a8a8" />
<text x="432.80" y="518.39" font-size="14.83" text-anchor="start" fill="#000" font-weight="normal" textLength="5.81" lengthAdjust="spacingAndGlyphs"  stroke="#000" stroke-width="0.45">7</text>
<text x="76.60" y="517.94" font-size="15.12" text-anchor="start" fill="#fff" font-weight="normal" textLength="48.52" lengthAdjust="spacingAndGlyphs"  stroke="#fff" stroke-width="0.2">ЗАГАЛОМ</text>
<rect x="138.30" y="538.13" width="153.80" height="10.95" fill="#08ad4f" />
<text x="209.65" y="549.43" font-size="14.83" text-anchor="start" fill="#000" font-weight="normal" textLength="5.81" lengthAdjust="spacingAndGlyphs"  stroke="#000" stroke-width="0.45">5</text>
<text x="216.25" y="549.43" font-size="14.83" text-anchor="start" fill="#000" font-weight="normal" textLength="5.81" lengthAdjust="spacingAndGlyphs"  stroke="#000" stroke-width="0.45">0</text>
<rect x="291.80" y="538.13" width="120.70" height="10.95" fill="#b7dde8" />
<text x="346.60" y="549.43" font-size="14.83" text-anchor="start" fill="#000" font-weight="normal" textLength="5.81" lengthAdjust="spacingAndGlyphs"  stroke="#000" stroke-width="0.45">3</text>
<text x="353.20" y="549.43" font-size="14.83" text-anchor="start" fill="#000" font-weight="normal" textLength="5.81" lengthAdjust="spacingAndGlyphs"  stroke="#000" stroke-width="0.45">9</text>
<rect x="412.20" y="538.13" width="26.10" height="10.95" fill="#06adee" />
<text x="423.00" y="549.43" font-size="14.83" text-anchor="start" fill="#000" font-weight="normal" textLength="5.81" lengthAdjust="spacingAndGlyphs"  stroke="#000" stroke-width="0.45">9</text>
<rect x="438.00" y="538.13" width="7.80" height="10.95" fill="#a8a8a8" />
<text x="439.80" y="549.43" font-size="14.83" text-anchor="start" fill="#000" font-weight="normal" textLength="5.81" lengthAdjust="spacingAndGlyphs"  stroke="#000" stroke-width="0.45">2</text>
<text x="106.60" y="548.98" font-size="15.12" text-anchor="start" fill="#fff" font-weight="normal" textLength="18.01" lengthAdjust="spacingAndGlyphs"  stroke="#fff" stroke-width="0.2">50+</text>
<rect x="138.30" y="553.66" width="160.20" height="10.95" fill="#08ad4f" />
<text x="212.85" y="564.96" font-size="14.83" text-anchor="start" fill="#000" font-weight="normal" textLength="5.81" lengthAdjust="spacingAndGlyphs"  stroke="#000" stroke-width="0.45">5</text>
<text x="219.45" y="564.96" font-size="14.83" text-anchor="start" fill="#000" font-weight="normal" textLength="5.81" lengthAdjust="spacingAndGlyphs"  stroke="#000" stroke-width="0.45">2</text>
<rect x="298.20" y="553.66" width="98.40" height="10.95" fill="#b7dde8" />
<text x="341.85" y="564.96" font-size="14.83" text-anchor="start" fill="#000" font-weight="normal" textLength="5.81" lengthAdjust="spacingAndGlyphs"  stroke="#000" stroke-width="0.45">3</text>
<text x="348.45" y="564.96" font-size="14.83" text-anchor="start" fill="#000" font-weight="normal" textLength="5.81" lengthAdjust="spacingAndGlyphs"  stroke="#000" stroke-width="0.45">2</text>
<rect x="396.30" y="553.66" width="28.80" height="10.95" fill="#06adee" />
<text x="408.45" y="564.96" font-size="14.83" text-anchor="start" fill="#000" font-weight="normal" textLength="5.81" lengthAdjust="spacingAndGlyphs"  stroke="#000" stroke-width="0.45">9</text>
<rect x="424.80" y="553.66" width="21.00" height="10.95" fill="#a8a8a8" />
<text x="433.20" y="564.96" font-size="14.83" text-anchor="start" fill="#000" font-weight="normal" textLength="5.81" lengthAdjust="spacingAndGlyphs"  stroke="#000" stroke-width="0.45">7</text>
<text x="92.60" y="564.51" font-size="15.12" text-anchor="start" fill="#fff" font-weight="normal" textLength="31.22" lengthAdjust="spacingAndGlyphs"  stroke="#fff" stroke-width="0.2">40-49</text>
<rect x="138.30" y="569.18" width="145.70" height="10.95" fill="#08ad4f" />
<text x="205.35" y="580.48" font-size="14.83" text-anchor="start" fill="#000" font-weight="normal" textLength="6.61" lengthAdjust="spacingAndGlyphs"  stroke="#000" stroke-width="0.45">4</text>
<text x="212.45" y="580.48" font-size="14.83" text-anchor="start" fill="#000" font-weight="normal" textLength="5.81" lengthAdjust="spacingAndGlyphs"  stroke="#000" stroke-width="0.45">7</text>
<rect x="283.70" y="569.18" width="110.90" height="10.95" fill="#b7dde8" />
<text x="333.60" y="580.48" font-size="14.83" text-anchor="start" fill="#000" font-weight="normal" textLength="5.81" lengthAdjust="spacingAndGlyphs"  stroke="#000" stroke-width="0.45">3</text>
<text x="340.20" y="580.48" font-size="14.83" text-anchor="start" fill="#000" font-weight="normal" textLength="5.81" lengthAdjust="spacingAndGlyphs"  stroke="#000" stroke-width="0.45">6</text>
<rect x="394.30" y="569.18" width="25.50" height="10.95" fill="#06adee" />
<text x="404.80" y="580.48" font-size="14.83" text-anchor="start" fill="#000" font-weight="normal" textLength="5.81" lengthAdjust="spacingAndGlyphs"  stroke="#000" stroke-width="0.45">8</text>
<rect x="419.50" y="569.18" width="26.30" height="10.95" fill="#a8a8a8" />
<text x="430.55" y="580.48" font-size="14.83" text-anchor="start" fill="#000" font-weight="normal" textLength="5.81" lengthAdjust="spacingAndGlyphs"  stroke="#000" stroke-width="0.45">9</text>
<text x="93.35" y="580.03" font-size="15.12" text-anchor="start" fill="#fff" font-weight="normal" textLength="29.72" lengthAdjust="spacingAndGlyphs"  stroke="#fff" stroke-width="0.2">30-39</text>
<rect x="138.30" y="584.70" width="145.10" height="10.95" fill="#08ad4f" />
<text x="205.05" y="596.00" font-size="14.83" text-anchor="start" fill="#000" font-weight="normal" textLength="6.61" lengthAdjust="spacingAndGlyphs"  stroke="#000" stroke-width="0.45">4</text>
<text x="212.15" y="596.00" font-size="14.83" text-anchor="start" fill="#000" font-weight="normal" textLength="5.81" lengthAdjust="spacingAndGlyphs"  stroke="#000" stroke-width="0.45">7</text>
<rect x="283.10" y="584.70" width="94.10" height="10.95" fill="#b7dde8" />
<text x="324.60" y="596.00" font-size="14.83" text-anchor="start" fill="#000" font-weight="normal" textLength="5.81" lengthAdjust="spacingAndGlyphs"  stroke="#000" stroke-width="0.45">3</text>
<text x="331.20" y="596.00" font-size="14.83" text-anchor="start" fill="#000" font-weight="normal" textLength="5.81" lengthAdjust="spacingAndGlyphs"  stroke="#000" stroke-width="0.45">0</text>
<rect x="376.90" y="584.70" width="33.90" height="10.95" fill="#06adee" />
<path d="M392.05 585.50H393.70V596.00H392.05V587.50L390.60 588.80V587.10z" fill="#000"/>
<path d="M396.75 585.50H398.40V596.00H396.75V587.50L395.30 588.80V587.10z" fill="#000"/>
<rect x="410.50" y="584.70" width="35.30" height="10.95" fill="#a8a8a8" />
<path d="M424.95 585.50H426.60V596.00H424.95V587.50L423.50 588.80V587.10z" fill="#000"/>
<text x="428.60" y="596.00" font-size="14.83" text-anchor="start" fill="#000" font-weight="normal" textLength="5.81" lengthAdjust="spacingAndGlyphs"  stroke="#000" stroke-width="0.45">2</text>
<text x="95.10" y="595.55" font-size="15.12" text-anchor="start" fill="#fff" font-weight="normal" textLength="28.47" lengthAdjust="spacingAndGlyphs"  stroke="#fff" stroke-width="0.2">18-29</text>
<rect x="138.30" y="615.75" width="165.60" height="10.95" fill="#08ad4f" />
<text x="215.30" y="627.05" font-size="14.83" text-anchor="start" fill="#000" font-weight="normal" textLength="5.81" lengthAdjust="spacingAndGlyphs"  stroke="#000" stroke-width="0.45">5</text>
<text x="221.60" y="627.05" font-size="14.83" text-anchor="start" fill="#000" font-weight="normal" textLength="6.61" lengthAdjust="spacingAndGlyphs"  stroke="#000" stroke-width="0.45">4</text>
<rect x="303.60" y="615.75" width="95.80" height="10.95" fill="#b7dde8" />
<text x="347.50" y="627.05" font-size="14.83" text-anchor="start" fill="#000" font-weight="normal" textLength="5.81" lengthAdjust="spacingAndGlyphs"  stroke="#000" stroke-width="0.45">3</text>
<path d="M355.15 616.55H356.80V627.05H355.15V618.55L353.70 619.85V618.15z" fill="#000"/>
<rect x="399.10" y="615.75" width="27.40" height="10.95" fill="#06adee" />
<text x="410.55" y="627.05" font-size="14.83" text-anchor="start" fill="#000" font-weight="normal" textLength="5.81" lengthAdjust="spacingAndGlyphs"  stroke="#000" stroke-width="0.45">9</text>
<rect x="426.20" y="615.75" width="19.60" height="10.95" fill="#a8a8a8" />
<text x="433.90" y="627.05" font-size="14.83" text-anchor="start" fill="#000" font-weight="normal" textLength="5.81" lengthAdjust="spacingAndGlyphs"  stroke="#000" stroke-width="0.45">7</text>
<text x="92.10" y="626.60" font-size="15.12" text-anchor="start" fill="#fff" font-weight="normal" textLength="31.99" lengthAdjust="spacingAndGlyphs"  stroke="#fff" stroke-width="0.2">Жінки</text>
<rect x="138.30" y="631.27" width="132.20" height="10.95" fill="#08ad4f" />
<text x="198.60" y="642.57" font-size="14.83" text-anchor="start" fill="#000" font-weight="normal" textLength="6.61" lengthAdjust="spacingAndGlyphs"  stroke="#000" stroke-width="0.45">4</text>
<text x="205.70" y="642.57" font-size="14.83" text-anchor="start" fill="#000" font-weight="normal" textLength="5.81" lengthAdjust="spacingAndGlyphs"  stroke="#000" stroke-width="0.45">3</text>
<rect x="270.20" y="631.27" width="120.80" height="10.95" fill="#b7dde8" />
<text x="325.05" y="642.57" font-size="14.83" text-anchor="start" fill="#000" font-weight="normal" textLength="5.81" lengthAdjust="spacingAndGlyphs"  stroke="#000" stroke-width="0.45">3</text>
<text x="331.65" y="642.57" font-size="14.83" text-anchor="start" fill="#000" font-weight="normal" textLength="5.81" lengthAdjust="spacingAndGlyphs"  stroke="#000" stroke-width="0.45">9</text>
<rect x="390.70" y="631.27" width="30.80" height="10.95" fill="#06adee" />
<path d="M402.75 632.07H404.40V642.57H402.75V634.07L401.30 635.37V633.67z" fill="#000"/>
<text x="406.40" y="642.57" font-size="14.83" text-anchor="start" fill="#000" font-weight="normal" textLength="5.81" lengthAdjust="spacingAndGlyphs"  stroke="#000" stroke-width="0.45">0</text>
<rect x="421.20" y="631.27" width="24.60" height="10.95" fill="#a8a8a8" />
<text x="431.40" y="642.57" font-size="14.83" text-anchor="start" fill="#000" font-weight="normal" textLength="5.81" lengthAdjust="spacingAndGlyphs"  stroke="#000" stroke-width="0.45">8</text>
<text x="78.10" y="642.12" font-size="15.12" text-anchor="start" fill="#fff" font-weight="normal" textLength="46.01" lengthAdjust="spacingAndGlyphs"  stroke="#fff" stroke-width="0.2">Чоловіки</text>
<rect x="138.30" y="662.32" width="154.60" height="10.95" fill="#08ad4f" />
<text x="210.05" y="673.62" font-size="14.83" text-anchor="start" fill="#000" font-weight="normal" textLength="5.81" lengthAdjust="spacingAndGlyphs"  stroke="#000" stroke-width="0.45">5</text>
<text x="216.65" y="673.62" font-size="14.83" text-anchor="start" fill="#000" font-weight="normal" textLength="5.81" lengthAdjust="spacingAndGlyphs"  stroke="#000" stroke-width="0.45">0</text>
<rect x="292.60" y="662.32" width="98.90" height="10.95" fill="#b7dde8" />
<text x="336.50" y="673.62" font-size="14.83" text-anchor="start" fill="#000" font-weight="normal" textLength="5.81" lengthAdjust="spacingAndGlyphs"  stroke="#000" stroke-width="0.45">3</text>
<text x="343.10" y="673.62" font-size="14.83" text-anchor="start" fill="#000" font-weight="normal" textLength="5.81" lengthAdjust="spacingAndGlyphs"  stroke="#000" stroke-width="0.45">2</text>
<rect x="391.20" y="662.32" width="32.50" height="10.95" fill="#06adee" />
<path d="M404.10 663.12H405.75V673.62H404.10V665.12L402.65 666.42V664.72z" fill="#000"/>
<text x="407.75" y="673.62" font-size="14.83" text-anchor="start" fill="#000" font-weight="normal" textLength="5.81" lengthAdjust="spacingAndGlyphs"  stroke="#000" stroke-width="0.45">0</text>
<rect x="423.40" y="662.32" width="22.40" height="10.95" fill="#a8a8a8" />
<text x="432.50" y="673.62" font-size="14.83" text-anchor="start" fill="#000" font-weight="normal" textLength="5.81" lengthAdjust="spacingAndGlyphs"  stroke="#000" stroke-width="0.45">7</text>
<text x="54.60" y="673.17" font-size="15.12" text-anchor="start" fill="#fff" font-weight="normal" textLength="68.75" lengthAdjust="spacingAndGlyphs"  stroke="#fff" stroke-width="0.2">Не працюють</text>
<rect x="138.30" y="677.84" width="161.90" height="10.95" fill="#08ad4f" />
<text x="213.70" y="689.14" font-size="14.83" text-anchor="start" fill="#000" font-weight="normal" textLength="5.81" lengthAdjust="spacingAndGlyphs"  stroke="#000" stroke-width="0.45">5</text>
<text x="220.30" y="689.14" font-size="14.83" text-anchor="start" fill="#000" font-weight="normal" textLength="5.81" lengthAdjust="spacingAndGlyphs"  stroke="#000" stroke-width="0.45">3</text>
<rect x="299.90" y="677.84" width="104.50" height="10.95" fill="#b7dde8" />
<text x="346.35" y="689.14" font-size="14.83" text-anchor="start" fill="#000" font-weight="normal" textLength="5.81" lengthAdjust="spacingAndGlyphs"  stroke="#000" stroke-width="0.45">3</text>
<text x="352.65" y="689.14" font-size="14.83" text-anchor="start" fill="#000" font-weight="normal" textLength="6.61" lengthAdjust="spacingAndGlyphs"  stroke="#000" stroke-width="0.45">4</text>
<rect x="404.10" y="677.84" width="26.10" height="10.95" fill="#06adee" />
<text x="414.90" y="689.14" font-size="14.83" text-anchor="start" fill="#000" font-weight="normal" textLength="5.81" lengthAdjust="spacingAndGlyphs"  stroke="#000" stroke-width="0.45">8</text>
<rect x="429.90" y="677.84" width="15.90" height="10.95" fill="#a8a8a8" />
<text x="435.75" y="689.14" font-size="14.83" text-anchor="start" fill="#000" font-weight="normal" textLength="5.81" lengthAdjust="spacingAndGlyphs"  stroke="#000" stroke-width="0.45">5</text>
<text x="13.10" y="688.69" font-size="15.12" text-anchor="start" fill="#fff" font-weight="normal" textLength="110.23" lengthAdjust="spacingAndGlyphs"  stroke="#fff" stroke-width="0.2">Працюють віддалено</text>
<rect x="138.30" y="693.36" width="135.60" height="10.95" fill="#08ad4f" />
<text x="200.05" y="704.66" font-size="14.83" text-anchor="start" fill="#000" font-weight="normal" textLength="6.61" lengthAdjust="spacingAndGlyphs"  stroke="#000" stroke-width="0.45">4</text>
<text x="206.85" y="704.66" font-size="14.83" text-anchor="start" fill="#000" font-weight="normal" textLength="6.61" lengthAdjust="spacingAndGlyphs"  stroke="#000" stroke-width="0.45">4</text>
<rect x="273.60" y="693.36" width="121.00" height="10.95" fill="#b7dde8" />
<text x="328.55" y="704.66" font-size="14.83" text-anchor="start" fill="#000" font-weight="normal" textLength="5.81" lengthAdjust="spacingAndGlyphs"  stroke="#000" stroke-width="0.45">3</text>
<text x="335.15" y="704.66" font-size="14.83" text-anchor="start" fill="#000" font-weight="normal" textLength="5.81" lengthAdjust="spacingAndGlyphs"  stroke="#000" stroke-width="0.45">9</text>
<rect x="394.30" y="693.36" width="26.10" height="10.95" fill="#06adee" />
<text x="405.10" y="704.66" font-size="14.83" text-anchor="start" fill="#000" font-weight="normal" textLength="5.81" lengthAdjust="spacingAndGlyphs"  stroke="#000" stroke-width="0.45">8</text>
<rect x="420.10" y="693.36" width="25.70" height="10.95" fill="#a8a8a8" />
<text x="430.85" y="704.66" font-size="14.83" text-anchor="start" fill="#000" font-weight="normal" textLength="5.81" lengthAdjust="spacingAndGlyphs"  stroke="#000" stroke-width="0.45">9</text>
<text x="33.85" y="704.21" font-size="15.12" text-anchor="start" fill="#fff" font-weight="normal" textLength="88.77" lengthAdjust="spacingAndGlyphs"  stroke="#fff" stroke-width="0.2">Ходять на роботу</text>
<path d="M678.50 507.20V709.20" stroke="#7f9db0" stroke-width="1" fill="none"/>
<path d="M674.30 507.20H679.00" stroke="#7f9db0" stroke-width="1" fill="none"/>
<path d="M674.30 522.74H679.00" stroke="#7f9db0" stroke-width="1" fill="none"/>
<path d="M674.30 538.28H679.00" stroke="#7f9db0" stroke-width="1" fill="none"/>
<path d="M674.30 553.82H679.00" stroke="#7f9db0" stroke-width="1" fill="none"/>
<path d="M674.30 569.35H679.00" stroke="#7f9db0" stroke-width="1" fill="none"/>
<path d="M674.30 584.89H679.00" stroke="#7f9db0" stroke-width="1" fill="none"/>
<path d="M674.30 600.43H679.00" stroke="#7f9db0" stroke-width="1" fill="none"/>
<path d="M674.30 615.97H679.00" stroke="#7f9db0" stroke-width="1" fill="none"/>
<path d="M674.30 631.51H679.00" stroke="#7f9db0" stroke-width="1" fill="none"/>
<path d="M674.30 647.05H679.00" stroke="#7f9db0" stroke-width="1" fill="none"/>
<path d="M674.30 662.58H679.00" stroke="#7f9db0" stroke-width="1" fill="none"/>
<path d="M674.30 678.12H679.00" stroke="#7f9db0" stroke-width="1" fill="none"/>
<path d="M674.30 693.66H679.00" stroke="#7f9db0" stroke-width="1" fill="none"/>
<path d="M674.30 709.20H679.00" stroke="#7f9db0" stroke-width="1" fill="none"/>
<rect x="679.30" y="509.77" width="83.30" height="11.00" fill="#08ad4f" />
<text x="715.40" y="521.12" font-size="14.83" text-anchor="start" fill="#000" font-weight="normal" textLength="5.81" lengthAdjust="spacingAndGlyphs"  stroke="#000" stroke-width="0.45">2</text>
<text x="722.00" y="521.12" font-size="14.83" text-anchor="start" fill="#000" font-weight="normal" textLength="5.81" lengthAdjust="spacingAndGlyphs"  stroke="#000" stroke-width="0.45">7</text>
<rect x="762.30" y="509.77" width="146.30" height="11.00" fill="#b7dde8" />
<text x="829.65" y="521.12" font-size="14.83" text-anchor="start" fill="#000" font-weight="normal" textLength="6.61" lengthAdjust="spacingAndGlyphs"  stroke="#000" stroke-width="0.45">4</text>
<text x="836.75" y="521.12" font-size="14.83" text-anchor="start" fill="#000" font-weight="normal" textLength="5.81" lengthAdjust="spacingAndGlyphs"  stroke="#000" stroke-width="0.45">7</text>
<rect x="908.30" y="509.77" width="35.80" height="11.00" fill="#06adee" />
<path d="M924.40 510.62H926.05V521.12H924.40V512.62L922.95 513.92V512.22z" fill="#000"/>
<path d="M929.10 510.62H930.75V521.12H929.10V512.62L927.65 513.92V512.22z" fill="#000"/>
<rect x="943.80" y="509.77" width="43.00" height="11.00" fill="#a8a8a8" />
<path d="M961.85 510.62H963.50V521.12H961.85V512.62L960.40 513.92V512.22z" fill="#000"/>
<text x="965.20" y="521.12" font-size="14.83" text-anchor="start" fill="#000" font-weight="normal" textLength="6.61" lengthAdjust="spacingAndGlyphs"  stroke="#000" stroke-width="0.45">4</text>
<text x="618.30" y="520.67" font-size="15.12" text-anchor="start" fill="#fff" font-weight="normal" textLength="48.52" lengthAdjust="spacingAndGlyphs"  stroke="#fff" stroke-width="0.2">ЗАГАЛОМ</text>
<rect x="679.30" y="540.85" width="122.70" height="11.00" fill="#08ad4f" />
<text x="734.85" y="552.20" font-size="14.83" text-anchor="start" fill="#000" font-weight="normal" textLength="6.61" lengthAdjust="spacingAndGlyphs"  stroke="#000" stroke-width="0.45">4</text>
<text x="741.95" y="552.20" font-size="14.83" text-anchor="start" fill="#000" font-weight="normal" textLength="5.81" lengthAdjust="spacingAndGlyphs"  stroke="#000" stroke-width="0.45">0</text>
<rect x="801.70" y="540.85" width="133.50" height="11.00" fill="#b7dde8" />
<text x="862.65" y="552.20" font-size="14.83" text-anchor="start" fill="#000" font-weight="normal" textLength="6.61" lengthAdjust="spacingAndGlyphs"  stroke="#000" stroke-width="0.45">4</text>
<text x="869.75" y="552.20" font-size="14.83" text-anchor="start" fill="#000" font-weight="normal" textLength="5.81" lengthAdjust="spacingAndGlyphs"  stroke="#000" stroke-width="0.45">3</text>
<rect x="934.90" y="540.85" width="38.10" height="11.00" fill="#06adee" />
<path d="M950.60 541.70H952.25V552.20H950.60V543.70L949.15 545.00V543.30z" fill="#000"/>
<text x="954.25" y="552.20" font-size="14.83" text-anchor="start" fill="#000" font-weight="normal" textLength="5.81" lengthAdjust="spacingAndGlyphs"  stroke="#000" stroke-width="0.45">2</text>
<rect x="972.70" y="540.85" width="14.10" height="11.00" fill="#a8a8a8" />
<text x="977.65" y="552.20" font-size="14.83" text-anchor="start" fill="#000" font-weight="normal" textLength="5.81" lengthAdjust="spacingAndGlyphs"  stroke="#000" stroke-width="0.45">5</text>
<text x="636.80" y="551.75" font-size="15.12" text-anchor="start" fill="#fff" font-weight="normal" textLength="28.47" lengthAdjust="spacingAndGlyphs"  stroke="#fff" stroke-width="0.2">18-29</text>
<rect x="679.30" y="556.38" width="68.40" height="11.00" fill="#08ad4f" />
<text x="707.95" y="567.73" font-size="14.83" text-anchor="start" fill="#000" font-weight="normal" textLength="5.81" lengthAdjust="spacingAndGlyphs"  stroke="#000" stroke-width="0.45">2</text>
<text x="714.55" y="567.73" font-size="14.83" text-anchor="start" fill="#000" font-weight="normal" textLength="5.81" lengthAdjust="spacingAndGlyphs"  stroke="#000" stroke-width="0.45">2</text>
<rect x="747.40" y="556.38" width="155.00" height="11.00" fill="#b7dde8" />
<text x="819.35" y="567.73" font-size="14.83" text-anchor="start" fill="#000" font-weight="normal" textLength="5.81" lengthAdjust="spacingAndGlyphs"  stroke="#000" stroke-width="0.45">5</text>
<text x="825.95" y="567.73" font-size="14.83" text-anchor="start" fill="#000" font-weight="normal" textLength="5.81" lengthAdjust="spacingAndGlyphs"  stroke="#000" stroke-width="0.45">0</text>
<rect x="902.10" y="556.38" width="32.80" height="11.00" fill="#06adee" />
<path d="M915.15 557.23H916.80V567.73H915.15V559.23L913.70 560.53V558.83z" fill="#000"/>
<text x="918.80" y="567.73" font-size="14.83" text-anchor="start" fill="#000" font-weight="normal" textLength="5.81" lengthAdjust="spacingAndGlyphs"  stroke="#000" stroke-width="0.45">0</text>
<rect x="934.60" y="556.38" width="52.20" height="11.00" fill="#a8a8a8" />
<path d="M957.50 557.23H959.15V567.73H957.50V559.23L956.05 560.53V558.83z" fill="#000"/>
<text x="961.15" y="567.73" font-size="14.83" text-anchor="start" fill="#000" font-weight="normal" textLength="5.81" lengthAdjust="spacingAndGlyphs"  stroke="#000" stroke-width="0.45">7</text>
<text x="635.05" y="567.28" font-size="15.12" text-anchor="start" fill="#fff" font-weight="normal" textLength="29.72" lengthAdjust="spacingAndGlyphs"  stroke="#fff" stroke-width="0.2">30-39</text>
<rect x="679.30" y="571.92" width="81.00" height="11.00" fill="#08ad4f" />
<text x="714.25" y="583.27" font-size="14.83" text-anchor="start" fill="#000" font-weight="normal" textLength="5.81" lengthAdjust="spacingAndGlyphs"  stroke="#000" stroke-width="0.45">2</text>
<text x="720.85" y="583.27" font-size="14.83" text-anchor="start" fill="#000" font-weight="normal" textLength="5.81" lengthAdjust="spacingAndGlyphs"  stroke="#000" stroke-width="0.45">6</text>
<rect x="760.00" y="571.92" width="145.50" height="11.00" fill="#b7dde8" />
<text x="826.95" y="583.27" font-size="14.83" text-anchor="start" fill="#000" font-weight="normal" textLength="6.61" lengthAdjust="spacingAndGlyphs"  stroke="#000" stroke-width="0.45">4</text>
<text x="834.05" y="583.27" font-size="14.83" text-anchor="start" fill="#000" font-weight="normal" textLength="5.81" lengthAdjust="spacingAndGlyphs"  stroke="#000" stroke-width="0.45">7</text>
<rect x="905.20" y="571.92" width="37.00" height="11.00" fill="#06adee" />
<path d="M920.35 572.77H922.00V583.27H920.35V574.77L918.90 576.07V574.37z" fill="#000"/>
<text x="924.00" y="583.27" font-size="14.83" text-anchor="start" fill="#000" font-weight="normal" textLength="5.81" lengthAdjust="spacingAndGlyphs"  stroke="#000" stroke-width="0.45">2</text>
<rect x="941.90" y="571.92" width="44.90" height="11.00" fill="#a8a8a8" />
<path d="M961.15 572.77H962.80V583.27H961.15V574.77L959.70 576.07V574.37z" fill="#000"/>
<text x="964.80" y="583.27" font-size="14.83" text-anchor="start" fill="#000" font-weight="normal" textLength="5.81" lengthAdjust="spacingAndGlyphs"  stroke="#000" stroke-width="0.45">5</text>
<text x="634.30" y="582.82" font-size="15.12" text-anchor="start" fill="#fff" font-weight="normal" textLength="31.22" lengthAdjust="spacingAndGlyphs"  stroke="#fff" stroke-width="0.2">40-49</text>
<rect x="679.30" y="587.46" width="66.20" height="11.00" fill="#08ad4f" />
<text x="706.85" y="598.81" font-size="14.83" text-anchor="start" fill="#000" font-weight="normal" textLength="5.81" lengthAdjust="spacingAndGlyphs"  stroke="#000" stroke-width="0.45">2</text>
<text x="713.45" y="598.81" font-size="14.83" text-anchor="start" fill="#000" font-weight="normal" textLength="5.81" lengthAdjust="spacingAndGlyphs"  stroke="#000" stroke-width="0.45">2</text>
<rect x="745.20" y="587.46" width="149.10" height="11.00" fill="#b7dde8" />
<text x="813.95" y="598.81" font-size="14.83" text-anchor="start" fill="#000" font-weight="normal" textLength="6.61" lengthAdjust="spacingAndGlyphs"  stroke="#000" stroke-width="0.45">4</text>
<text x="821.05" y="598.81" font-size="14.83" text-anchor="start" fill="#000" font-weight="normal" textLength="5.81" lengthAdjust="spacingAndGlyphs"  stroke="#000" stroke-width="0.45">8</text>
<rect x="894.00" y="587.46" width="35.60" height="11.00" fill="#06adee" />
<path d="M910.00 588.31H911.65V598.81H910.00V590.31L908.55 591.61V589.91z" fill="#000"/>
<path d="M914.70 588.31H916.35V598.81H914.70V590.31L913.25 591.61V589.91z" fill="#000"/>
<rect x="929.30" y="587.46" width="57.50" height="11.00" fill="#a8a8a8" />
<path d="M954.85 588.31H956.50V598.81H954.85V590.31L953.40 591.61V589.91z" fill="#000"/>
<text x="958.50" y="598.81" font-size="14.83" text-anchor="start" fill="#000" font-weight="normal" textLength="5.81" lengthAdjust="spacingAndGlyphs"  stroke="#000" stroke-width="0.45">9</text>
<text x="648.30" y="598.36" font-size="15.12" text-anchor="start" fill="#fff" font-weight="normal" textLength="18.01" lengthAdjust="spacingAndGlyphs"  stroke="#fff" stroke-width="0.2">50+</text>
<rect x="679.30" y="618.54" width="86.90" height="11.00" fill="#08ad4f" />
<text x="717.20" y="629.89" font-size="14.83" text-anchor="start" fill="#000" font-weight="normal" textLength="5.81" lengthAdjust="spacingAndGlyphs"  stroke="#000" stroke-width="0.45">2</text>
<text x="723.80" y="629.89" font-size="14.83" text-anchor="start" fill="#000" font-weight="normal" textLength="5.81" lengthAdjust="spacingAndGlyphs"  stroke="#000" stroke-width="0.45">8</text>
<rect x="765.90" y="618.54" width="144.60" height="11.00" fill="#b7dde8" />
<text x="832.40" y="629.89" font-size="14.83" text-anchor="start" fill="#000" font-weight="normal" textLength="6.61" lengthAdjust="spacingAndGlyphs"  stroke="#000" stroke-width="0.45">4</text>
<text x="839.50" y="629.89" font-size="14.83" text-anchor="start" fill="#000" font-weight="normal" textLength="5.81" lengthAdjust="spacingAndGlyphs"  stroke="#000" stroke-width="0.45">7</text>
<rect x="910.20" y="618.54" width="35.90" height="11.00" fill="#06adee" />
<path d="M926.35 619.39H928.00V629.89H926.35V621.39L924.90 622.69V620.99z" fill="#000"/>
<path d="M931.05 619.39H932.70V629.89H931.05V621.39L929.60 622.69V620.99z" fill="#000"/>
<rect x="945.80" y="618.54" width="41.00" height="11.00" fill="#a8a8a8" />
<path d="M963.10 619.39H964.75V629.89H963.10V621.39L961.65 622.69V620.99z" fill="#000"/>
<text x="966.75" y="629.89" font-size="14.83" text-anchor="start" fill="#000" font-weight="normal" textLength="5.81" lengthAdjust="spacingAndGlyphs"  stroke="#000" stroke-width="0.45">3</text>
<text x="633.80" y="629.44" font-size="15.12" text-anchor="start" fill="#fff" font-weight="normal" textLength="31.99" lengthAdjust="spacingAndGlyphs"  stroke="#fff" stroke-width="0.2">Жінки</text>
<rect x="679.30" y="634.08" width="77.90" height="11.00" fill="#08ad4f" />
<text x="712.70" y="645.43" font-size="14.83" text-anchor="start" fill="#000" font-weight="normal" textLength="5.81" lengthAdjust="spacingAndGlyphs"  stroke="#000" stroke-width="0.45">2</text>
<text x="719.30" y="645.43" font-size="14.83" text-anchor="start" fill="#000" font-weight="normal" textLength="5.81" lengthAdjust="spacingAndGlyphs"  stroke="#000" stroke-width="0.45">5</text>
<rect x="756.90" y="634.08" width="148.60" height="11.00" fill="#b7dde8" />
<text x="825.40" y="645.43" font-size="14.83" text-anchor="start" fill="#000" font-weight="normal" textLength="6.61" lengthAdjust="spacingAndGlyphs"  stroke="#000" stroke-width="0.45">4</text>
<text x="832.50" y="645.43" font-size="14.83" text-anchor="start" fill="#000" font-weight="normal" textLength="5.81" lengthAdjust="spacingAndGlyphs"  stroke="#000" stroke-width="0.45">8</text>
<rect x="905.20" y="634.08" width="35.30" height="11.00" fill="#06adee" />
<path d="M921.05 634.93H922.70V645.43H921.05V636.93L919.60 638.23V636.53z" fill="#000"/>
<path d="M925.75 634.93H927.40V645.43H925.75V636.93L924.30 638.23V636.53z" fill="#000"/>
<rect x="940.20" y="634.08" width="46.60" height="11.00" fill="#a8a8a8" />
<path d="M960.30 634.93H961.95V645.43H960.30V636.93L958.85 638.23V636.53z" fill="#000"/>
<text x="963.95" y="645.43" font-size="14.83" text-anchor="start" fill="#000" font-weight="normal" textLength="5.81" lengthAdjust="spacingAndGlyphs"  stroke="#000" stroke-width="0.45">5</text>
<text x="619.80" y="644.98" font-size="15.12" text-anchor="start" fill="#fff" font-weight="normal" textLength="46.01" lengthAdjust="spacingAndGlyphs"  stroke="#fff" stroke-width="0.2">Чоловіки</text>
<rect x="679.30" y="665.15" width="88.00" height="11.00" fill="#08ad4f" />
<text x="717.75" y="676.50" font-size="14.83" text-anchor="start" fill="#000" font-weight="normal" textLength="5.81" lengthAdjust="spacingAndGlyphs"  stroke="#000" stroke-width="0.45">2</text>
<text x="724.35" y="676.50" font-size="14.83" text-anchor="start" fill="#000" font-weight="normal" textLength="5.81" lengthAdjust="spacingAndGlyphs"  stroke="#000" stroke-width="0.45">9</text>
<rect x="767.00" y="665.15" width="134.00" height="11.00" fill="#b7dde8" />
<text x="828.20" y="676.50" font-size="14.83" text-anchor="start" fill="#000" font-weight="normal" textLength="6.61" lengthAdjust="spacingAndGlyphs"  stroke="#000" stroke-width="0.45">4</text>
<text x="835.30" y="676.50" font-size="14.83" text-anchor="start" fill="#000" font-weight="normal" textLength="5.81" lengthAdjust="spacingAndGlyphs"  stroke="#000" stroke-width="0.45">3</text>
<rect x="900.70" y="665.15" width="40.10" height="11.00" fill="#06adee" />
<path d="M917.40 666.00H919.05V676.50H917.40V668.00L915.95 669.30V667.60z" fill="#000"/>
<text x="921.05" y="676.50" font-size="14.83" text-anchor="start" fill="#000" font-weight="normal" textLength="5.81" lengthAdjust="spacingAndGlyphs"  stroke="#000" stroke-width="0.45">3</text>
<rect x="940.50" y="665.15" width="46.30" height="11.00" fill="#a8a8a8" />
<path d="M960.45 666.00H962.10V676.50H960.45V668.00L959.00 669.30V667.60z" fill="#000"/>
<text x="964.10" y="676.50" font-size="14.83" text-anchor="start" fill="#000" font-weight="normal" textLength="5.81" lengthAdjust="spacingAndGlyphs"  stroke="#000" stroke-width="0.45">5</text>
<text x="596.30" y="676.05" font-size="15.12" text-anchor="start" fill="#fff" font-weight="normal" textLength="68.75" lengthAdjust="spacingAndGlyphs"  stroke="#fff" stroke-width="0.2">Не працюють</text>
<rect x="679.30" y="680.69" width="111.30" height="11.00" fill="#08ad4f" />
<text x="729.40" y="692.04" font-size="14.83" text-anchor="start" fill="#000" font-weight="normal" textLength="5.81" lengthAdjust="spacingAndGlyphs"  stroke="#000" stroke-width="0.45">3</text>
<text x="736.00" y="692.04" font-size="14.83" text-anchor="start" fill="#000" font-weight="normal" textLength="5.81" lengthAdjust="spacingAndGlyphs"  stroke="#000" stroke-width="0.45">6</text>
<rect x="790.30" y="680.69" width="151.30" height="11.00" fill="#b7dde8" />
<text x="860.15" y="692.04" font-size="14.83" text-anchor="start" fill="#000" font-weight="normal" textLength="6.61" lengthAdjust="spacingAndGlyphs"  stroke="#000" stroke-width="0.45">4</text>
<text x="867.25" y="692.04" font-size="14.83" text-anchor="start" fill="#000" font-weight="normal" textLength="5.81" lengthAdjust="spacingAndGlyphs"  stroke="#000" stroke-width="0.45">9</text>
<rect x="941.30" y="680.69" width="25.50" height="11.00" fill="#06adee" />
<text x="951.80" y="692.04" font-size="14.83" text-anchor="start" fill="#000" font-weight="normal" textLength="5.81" lengthAdjust="spacingAndGlyphs"  stroke="#000" stroke-width="0.45">8</text>
<rect x="966.50" y="680.69" width="20.30" height="11.00" fill="#a8a8a8" />
<text x="974.55" y="692.04" font-size="14.83" text-anchor="start" fill="#000" font-weight="normal" textLength="5.81" lengthAdjust="spacingAndGlyphs"  stroke="#000" stroke-width="0.45">7</text>
<text x="554.80" y="691.59" font-size="15.12" text-anchor="start" fill="#fff" font-weight="normal" textLength="110.23" lengthAdjust="spacingAndGlyphs"  stroke="#fff" stroke-width="0.2">Працюють віддалено</text>
<rect x="679.30" y="696.23" width="58.60" height="11.00" fill="#08ad4f" />
<path d="M705.25 697.08H706.90V707.58H705.25V699.08L703.80 700.38V698.68z" fill="#000"/>
<text x="708.90" y="707.58" font-size="14.83" text-anchor="start" fill="#000" font-weight="normal" textLength="5.81" lengthAdjust="spacingAndGlyphs"  stroke="#000" stroke-width="0.45">9</text>
<rect x="737.60" y="696.23" width="161.20" height="11.00" fill="#b7dde8" />
<text x="812.65" y="707.58" font-size="14.83" text-anchor="start" fill="#000" font-weight="normal" textLength="5.81" lengthAdjust="spacingAndGlyphs"  stroke="#000" stroke-width="0.45">5</text>
<text x="819.25" y="707.58" font-size="14.83" text-anchor="start" fill="#000" font-weight="normal" textLength="5.81" lengthAdjust="spacingAndGlyphs"  stroke="#000" stroke-width="0.45">2</text>
<rect x="898.50" y="696.23" width="34.70" height="11.00" fill="#06adee" />
<path d="M914.05 697.08H915.70V707.58H914.05V699.08L912.60 700.38V698.68z" fill="#000"/>
<path d="M918.75 697.08H920.40V707.58H918.75V699.08L917.30 700.38V698.68z" fill="#000"/>
<rect x="932.90" y="696.23" width="53.90" height="11.00" fill="#a8a8a8" />
<path d="M956.65 697.08H958.30V707.58H956.65V699.08L955.20 700.38V698.68z" fill="#000"/>
<text x="960.30" y="707.58" font-size="14.83" text-anchor="start" fill="#000" font-weight="normal" textLength="5.81" lengthAdjust="spacingAndGlyphs"  stroke="#000" stroke-width="0.45">8</text>
<text x="575.55" y="707.13" font-size="15.12" text-anchor="start" fill="#fff" font-weight="normal" textLength="88.77" lengthAdjust="spacingAndGlyphs"  stroke="#fff" stroke-width="0.2">Ходять на роботу</text>
<rect x="177.00" y="141.40" width="269.00" height="48.20" fill="#035e7f" />
<text x="252.50" y="175.00" font-size="20.78" text-anchor="start" fill="#fff" font-weight="normal" textLength="117.83" lengthAdjust="spacingAndGlyphs"  stroke="#fff" stroke-width="0.4">ЧИТАЮ КНИГИ</text>
<rect x="720.00" y="139.70" width="275.00" height="50.50" fill="#035e7f" />
<text x="777.60" y="158.80" font-size="20.78" text-anchor="start" fill="#fff" font-weight="normal" textLength="160.04" lengthAdjust="spacingAndGlyphs"  stroke="#fff" stroke-width="0.4">ДИВЛЮСЯ ФІЛЬМИ,</text>
<text x="823.80" y="184.10" font-size="20.78" text-anchor="start" fill="#fff" font-weight="normal" textLength="70.57" lengthAdjust="spacingAndGlyphs"  stroke="#fff" stroke-width="0.4">СЕРІАЛИ</text>
<rect x="186.00" y="433.50" width="259.80" height="49.20" fill="#035e7f" />
<text x="227.90" y="466.20" font-size="20.78" text-anchor="start" fill="#fff" font-weight="normal" textLength="203.17" lengthAdjust="spacingAndGlyphs"  stroke="#fff" stroke-width="0.4">СЛІДКУЮ ЗА НОВИНАМИ</text>
<rect x="720.00" y="434.20" width="275.00" height="52.30" fill="#035e7f" />
<text x="760.30" y="458.10" font-size="20.78" text-anchor="start" fill="#fff" font-weight="normal" textLength="196.33" lengthAdjust="spacingAndGlyphs"  stroke="#fff" stroke-width="0.4">НАВЧАЮСЯ, ЗАЙМАЮСЯ</text>
<text x="785.70" y="482.70" font-size="20.78" text-anchor="start" fill="#fff" font-weight="normal" textLength="145.98" lengthAdjust="spacingAndGlyphs"  stroke="#fff" stroke-width="0.4">САМОРОЗВИТКОМ</text>
<circle cx="184.6" cy="170" r="34.5" fill="#fdbe00"/>
<g fill="#fff">
<rect x="166.70" y="149.70" width="35.20" height="41.30" fill="#fff" />
<rect x="173.40" y="151.30" width="27.20" height="37.90" fill="#fdbe00" />
<rect x="178.90" y="160.80" width="16.80" height="5.80" fill="#fff" />
<path d="M188.8 191h7.5v6l-3.75-2.6-3.75 2.6z"/>
</g>
<circle cx="718.5" cy="167.6" r="34.5" fill="#fdbe00"/>
<g fill="#fff">
<rect x="698.5" y="162.7" width="30.2" height="20.1" rx="4.5"/>
<path d="M727.5 168.6L737.8 162.6Q739.6 162 739.6 164V181.5Q739.6 183.6 737.8 182.9L727.5 177z"/>
<path d="M711.5 163.5L714.2 159.2L716.8 163.5z"/>
<circle cx="705.4" cy="157" r="6" fill="#fdbe00" stroke="#fff" stroke-width="2"/>
<circle cx="722.8" cy="155.8" r="6.8" fill="#fdbe00" stroke="#fff" stroke-width="2"/>
</g>
<circle cx="185" cy="458.8" r="34.5" fill="#fdbe00"/>
<g fill="#fff">
<path d="M164.7 442.8q0-4 4-4h32q4 0 4 4v16h-4.3v-15.7h-31.4v15.7h-4.3z"/>
<rect x="171.50" y="452.80" width="27.50" height="2.30" fill="#fff" />
<rect x="171.50" y="457.60" width="6.30" height="2.00" fill="#fff" />
<rect x="171.50" y="461.60" width="6.30" height="2.00" fill="#fff" />
<rect x="192.50" y="457.60" width="6.50" height="2.00" fill="#fff" />
<rect x="192.50" y="461.60" width="6.50" height="2.00" fill="#fff" />
<rect x="181.00" y="457.40" width="9.00" height="6.30" fill="#fff" />
<rect x="169.00" y="466.70" width="32.00" height="4.40" fill="#fff" />
<path d="M165.6 459.2Q161 462.5 158.8 466.5L157.9 477.6L163.8 480.2Q166.6 474 167.4 469.4V459.2z"/>
<path d="M203.6 459.2Q208.4 462.5 210.4 466.5L211.6 477.2L207.3 480.2Q204.2 474 203.2 469.4V459.2z"/>
<path d="M162.6 465.5Q161.6 469.5 162.2 474M207 465.5Q208 469.5 207.4 474" stroke="#fdbe00" stroke-width="0.7" fill="none"/>
</g>
<text x="176.90" y="450.20" font-size="5.96" text-anchor="start" fill="#fff" font-weight="bold" textLength="16.30" lengthAdjust="spacingAndGlyphs" >NEWS</text>
<circle cx="718.5" cy="461.2" r="34.5" fill="#fdbe00"/>
<g fill="none" stroke="#fff" stroke-width="1.1" stroke-linejoin="round">
<path d="M719.4 445L746.7 455.2L719.4 469.4L692.6 455.2z"/>
<path d="M704.8 462v8.5l14.6 6.1l13.9-6.1v-8.5"/>
<path d="M694.6 456.5l-0.5 9 1 8-1 7 3.5 2.2 3.2-2.6-0.6-7 0.8-8-1.6-7.6"/>
</g>
</svg>
</body></html>
